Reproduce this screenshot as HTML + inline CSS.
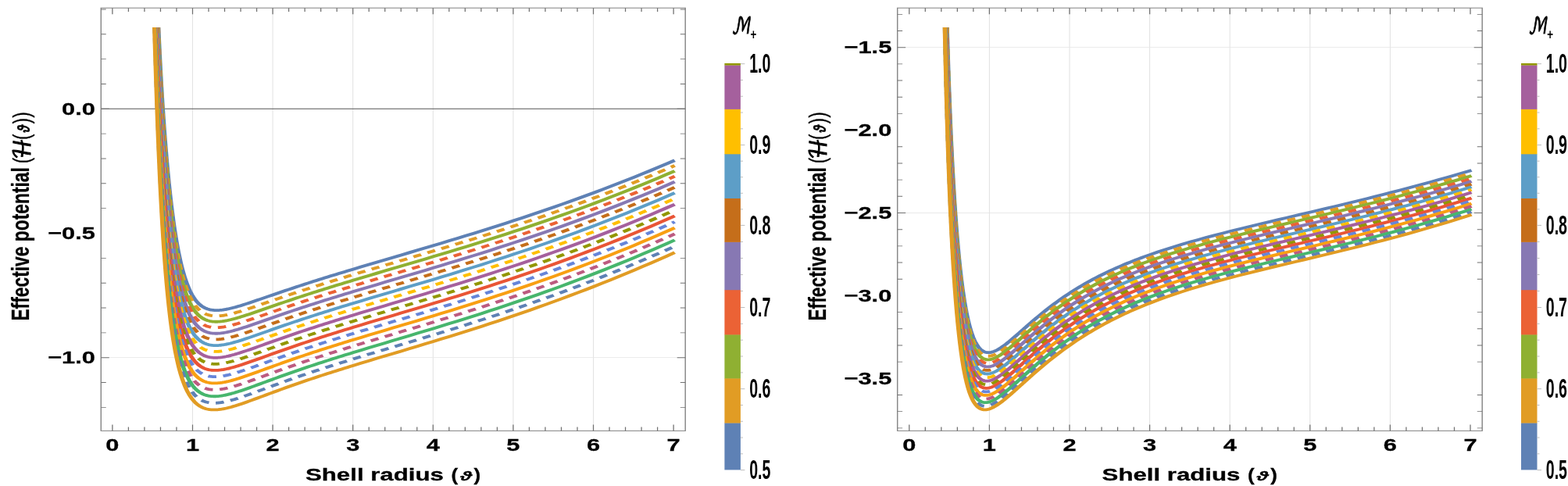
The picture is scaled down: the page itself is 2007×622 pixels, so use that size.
<!DOCTYPE html>
<html lang="en"><head><meta charset="utf-8"><title>Effective potential vs shell radius</title>
<style>html,body{margin:0;padding:0;background:#fff}body{width:2007px;height:622px;overflow:hidden}svg{display:block;filter:blur(0.45px)}</style>
</head><body>
<svg width="2007" height="622" viewBox="0 0 2007 622">
<rect width="2007" height="622" fill="#fff"/>
<clipPath id="cp0"><rect x="92.36" y="35.00" width="534.07" height="516.40"/></clipPath>
<g transform="scale(1.4000,1)">
<line x1="176.07" x2="176.07" y1="10.20" y2="551.40" stroke="#e2e2e2" stroke-width="0.75"/>
<line x1="249.36" x2="249.36" y1="10.20" y2="551.40" stroke="#e2e2e2" stroke-width="0.75"/>
<line x1="322.64" x2="322.64" y1="10.20" y2="551.40" stroke="#e2e2e2" stroke-width="0.75"/>
<line x1="395.93" x2="395.93" y1="10.20" y2="551.40" stroke="#e2e2e2" stroke-width="0.75"/>
<line x1="469.21" x2="469.21" y1="10.20" y2="551.40" stroke="#e2e2e2" stroke-width="0.75"/>
<line x1="542.50" x2="542.50" y1="10.20" y2="551.40" stroke="#e2e2e2" stroke-width="0.75"/>
<line x1="92.36" x2="626.57" y1="457.70" y2="457.70" stroke="#e6e6e6" stroke-width="0.75"/>
<line x1="92.36" x2="626.57" y1="139.30" y2="139.30" stroke="#555" stroke-width="1.00"/>
<g clip-path="url(#cp0)" fill="none" stroke-width="3.80" stroke-linejoin="round">
<polyline points="144.8,32 144.8,35 144.93,39.14 145.29,50.54 145.66,61.42 146.02,71.85 146.39,81.84 146.76,91.44 147.12,100.69 147.49,109.59 147.86,118.19 148.22,126.5 148.59,134.53 148.96,142.31 149.32,149.85 149.69,157.16 150.06,164.25 150.42,171.14 150.79,177.83 151.15,184.33 151.52,190.64 151.89,196.79 152.25,202.76 152.62,208.57 152.99,214.23 153.35,219.73 153.72,225.08 154.09,230.29 154.45,235.36 154.82,240.3 155.19,245.1 155.55,249.78 155.92,254.33 156.28,258.75 156.65,263.06 157.02,267.26 157.38,271.33 157.75,275.3 158.12,279.17 158.48,282.92 158.85,286.58 159.22,290.13 159.58,293.59 159.95,296.95 160.32,300.21 160.68,303.39 161.05,306.48 161.41,309.48 162.15,315.23 162.88,320.66 163.61,325.79 164.35,330.63 165.08,335.18 165.81,339.48 166.54,343.53 167.28,347.34 168.01,350.92 168.74,354.29 169.48,357.46 170.21,360.44 170.94,363.24 171.67,365.86 172.41,368.32 173.14,370.63 173.87,372.79 174.61,374.81 175.34,376.7 176.07,378.46 176.8,380.11 177.54,381.65 178.27,383.08 179,384.41 179.74,385.65 180.47,386.8 181.2,387.87 181.93,388.85 182.67,389.76 183.4,390.6 184.13,391.37 184.87,392.08 185.6,392.73 186.33,393.32 187.06,393.86 187.8,394.35 188.53,394.79 189.26,395.18 190,395.53 190.73,395.84 191.46,396.11 192.19,396.35 192.93,396.55 193.66,396.72 194.39,396.86 195.13,396.96 195.86,397.05 196.59,397.1 197.32,397.13 198.06,397.14 198.79,397.13 199.52,397.1 200.26,397.04 200.99,396.97 201.72,396.88 202.45,396.78 203.19,396.66 203.92,396.52 204.65,396.37 205.39,396.21 206.12,396.04 206.85,395.85 207.58,395.65 208.32,395.45 209.05,395.23 209.78,395 210.52,394.77 211.25,394.53 211.98,394.28 212.71,394.02 213.45,393.75 214.18,393.48 214.91,393.21 215.65,392.92 216.38,392.64 217.11,392.34 217.84,392.05 218.58,391.74 219.31,391.44 220.04,391.13 222.61,390.02 225.17,388.87 227.74,387.7 230.3,386.5 232.87,385.29 235.43,384.07 238,382.85 240.56,381.62 243.13,380.38 245.69,379.15 248.26,377.92 250.82,376.69 253.39,375.46 255.95,374.24 258.52,373.03 261.08,371.82 263.65,370.61 266.21,369.42 268.78,368.23 271.34,367.05 273.91,365.87 276.47,364.7 279.04,363.54 281.6,362.38 284.17,361.23 286.73,360.09 289.3,358.96 291.86,357.82 294.43,356.7 296.99,355.58 299.56,354.47 302.12,353.36 304.69,352.25 307.25,351.15 309.82,350.06 312.38,348.97 314.95,347.88 317.51,346.8 320.08,345.72 322.64,344.64 330,341.57 337.35,338.51 344.71,335.48 352.06,332.45 359.42,329.42 366.77,326.4 374.13,323.37 381.49,320.34 388.84,317.3 396.2,314.24 403.55,311.17 410.91,308.08 418.26,304.96 425.62,301.82 432.97,298.65 440.33,295.45 447.68,292.22 455.04,288.95 462.39,285.65 469.75,282.31 477.1,278.93 484.46,275.51 491.82,272.04 499.17,268.53 506.53,264.98 513.88,261.37 521.24,257.72 528.59,254.01 535.95,250.26 543.3,246.45 550.66,242.59 558.01,238.67 565.37,234.7 572.72,230.67 580.08,226.58 587.43,222.43 594.79,218.23 602.15,213.96 609.5,209.64 616.86,205.25" stroke="#5E81B5"/>
<polyline points="144.54,32 144.54,35 144.56,35.6 144.93,47.6 145.29,59.05 145.66,69.98 146.02,80.45 146.39,90.5 146.76,100.15 147.12,109.43 147.49,118.39 147.86,127.02 148.22,135.37 148.59,143.43 148.96,151.24 149.32,158.81 149.69,166.14 150.06,173.25 150.42,180.15 150.79,186.85 151.15,193.36 151.52,199.68 151.89,205.82 152.25,211.79 152.62,217.6 152.99,223.24 153.35,228.73 153.72,234.07 154.09,239.27 154.45,244.32 154.82,249.24 155.19,254.02 155.55,258.67 155.92,263.2 156.28,267.6 156.65,271.89 157.02,276.05 157.38,280.1 157.75,284.05 158.12,287.88 158.48,291.61 158.85,295.23 159.22,298.75 159.58,302.18 159.95,305.51 160.32,308.75 160.68,311.89 161.05,314.95 161.41,317.92 162.15,323.62 162.88,328.99 163.61,334.06 164.35,338.84 165.08,343.34 165.81,347.59 166.54,351.58 167.28,355.34 168.01,358.88 168.74,362.21 169.48,365.34 170.21,368.28 170.94,371.04 171.67,373.62 172.41,376.05 173.14,378.32 173.87,380.45 174.61,382.45 175.34,384.31 176.07,386.05 176.8,387.68 177.54,389.19 178.27,390.6 179,391.91 179.74,393.13 180.47,394.27 181.2,395.32 181.93,396.29 182.67,397.18 183.4,398.01 184.13,398.77 184.87,399.47 185.6,400.1 186.33,400.69 187.06,401.21 187.8,401.69 188.53,402.12 189.26,402.51 190,402.85 190.73,403.15 191.46,403.42 192.19,403.65 192.93,403.85 193.66,404.01 194.39,404.14 195.13,404.25 195.86,404.32 196.59,404.38 197.32,404.4 198.06,404.41 198.79,404.39 199.52,404.36 200.26,404.3 200.99,404.22 201.72,404.13 202.45,404.03 203.19,403.9 203.92,403.76 204.65,403.61 205.39,403.45 206.12,403.27 206.85,403.08 207.58,402.88 208.32,402.68 209.05,402.46 209.78,402.23 210.52,401.99 211.25,401.75 211.98,401.49 212.71,401.23 213.45,400.97 214.18,400.7 214.91,400.42 215.65,400.13 216.38,399.84 217.11,399.55 217.84,399.25 218.58,398.95 219.31,398.64 220.04,398.33 222.61,397.21 225.17,396.06 227.74,394.88 230.3,393.68 232.87,392.46 235.43,391.24 238,390 240.56,388.77 243.13,387.53 245.69,386.29 248.26,385.05 250.82,383.82 253.39,382.59 255.95,381.36 258.52,380.14 261.08,378.93 263.65,377.72 266.21,376.52 268.78,375.33 271.34,374.14 273.91,372.96 276.47,371.79 279.04,370.62 281.6,369.46 284.17,368.31 286.73,367.16 289.3,366.02 291.86,364.89 294.43,363.76 296.99,362.64 299.56,361.53 302.12,360.41 304.69,359.31 307.25,358.21 309.82,357.11 312.38,356.02 314.95,354.93 317.51,353.84 320.08,352.76 322.64,351.68 330,348.61 337.35,345.55 344.71,342.51 352.06,339.48 359.42,336.45 366.77,333.42 374.13,330.4 381.49,327.36 388.84,324.31 396.2,321.25 403.55,318.17 410.91,315.08 418.26,311.96 425.62,308.81 432.97,305.64 440.33,302.43 447.68,299.19 455.04,295.92 462.39,292.61 469.75,289.26 477.1,285.88 484.46,282.44 491.82,278.97 499.17,275.45 506.53,271.88 513.88,268.27 521.24,264.61 528.59,260.89 535.95,257.12 543.3,253.3 550.66,249.43 558.01,245.5 565.37,241.52 572.72,237.48 580.08,233.38 587.43,229.22 594.79,225 602.15,220.72 609.5,216.38 616.86,211.98" stroke="#E19C24" stroke-dasharray="7.6 6.2" stroke-dashoffset="-3"/>
<polyline points="144.29,32 144.29,35 144.56,44.14 144.93,56.18 145.29,67.67 145.66,78.65 146.02,89.17 146.39,99.26 146.76,108.96 147.12,118.29 147.49,127.29 147.86,135.97 148.22,144.35 148.59,152.45 148.96,160.29 149.32,167.88 149.69,175.23 150.06,182.36 150.42,189.28 150.79,195.99 151.15,202.5 151.52,208.82 151.89,214.97 152.25,220.94 152.62,226.74 152.99,232.37 153.35,237.85 153.72,243.18 154.09,248.36 154.45,253.4 154.82,258.29 155.19,263.06 155.55,267.69 155.92,272.19 156.28,276.57 156.65,280.82 157.02,284.96 157.38,288.99 157.75,292.9 158.12,296.7 158.48,300.4 158.85,303.99 159.22,307.49 159.58,310.88 159.95,314.18 160.32,317.39 160.68,320.5 161.05,323.53 161.41,326.47 162.15,332.11 162.88,337.42 163.61,342.43 164.35,347.15 165.08,351.6 165.81,355.79 166.54,359.74 167.28,363.45 168.01,366.95 168.74,370.23 169.48,373.32 170.21,376.21 170.94,378.93 171.67,381.49 172.41,383.88 173.14,386.12 173.87,388.22 174.61,390.18 175.34,392.02 176.07,393.73 176.8,395.33 177.54,396.83 178.27,398.22 179,399.51 179.74,400.71 180.47,401.83 181.2,402.86 181.93,403.82 182.67,404.7 183.4,405.51 184.13,406.26 184.87,406.94 185.6,407.57 186.33,408.14 187.06,408.66 187.8,409.13 188.53,409.55 189.26,409.93 190,410.27 190.73,410.56 191.46,410.82 192.19,411.04 192.93,411.23 193.66,411.39 194.39,411.52 195.13,411.62 195.86,411.69 196.59,411.74 197.32,411.77 198.06,411.77 198.79,411.75 199.52,411.71 200.26,411.65 200.99,411.57 201.72,411.47 202.45,411.36 203.19,411.24 203.92,411.1 204.65,410.94 205.39,410.78 206.12,410.6 206.85,410.41 207.58,410.21 208.32,409.99 209.05,409.77 209.78,409.54 210.52,409.3 211.25,409.06 211.98,408.8 212.71,408.54 213.45,408.27 214.18,408 214.91,407.72 215.65,407.43 216.38,407.14 217.11,406.85 217.84,406.54 218.58,406.24 219.31,405.93 220.04,405.62 222.61,404.49 225.17,403.33 227.74,402.15 230.3,400.94 232.87,399.72 235.43,398.49 238,397.25 240.56,396.01 243.13,394.76 245.69,393.52 248.26,392.27 250.82,391.03 253.39,389.8 255.95,388.57 258.52,387.34 261.08,386.13 263.65,384.91 266.21,383.71 268.78,382.51 271.34,381.32 273.91,380.14 276.47,378.96 279.04,377.79 281.6,376.63 284.17,375.47 286.73,374.33 289.3,373.18 291.86,372.05 294.43,370.92 296.99,369.79 299.56,368.67 302.12,367.56 304.69,366.45 307.25,365.35 309.82,364.25 312.38,363.15 314.95,362.06 317.51,360.98 320.08,359.89 322.64,358.81 330,355.73 337.35,352.67 344.71,349.63 352.06,346.59 359.42,343.57 366.77,340.54 374.13,337.5 381.49,334.47 388.84,331.42 396.2,328.35 403.55,325.27 410.91,322.17 418.26,319.04 425.62,315.89 432.97,312.71 440.33,309.5 447.68,306.25 455.04,302.98 462.39,299.66 469.75,296.3 477.1,292.91 484.46,289.47 491.82,285.98 499.17,282.45 506.53,278.88 513.88,275.25 521.24,271.58 528.59,267.85 535.95,264.08 543.3,260.25 550.66,256.36 558.01,252.42 565.37,248.42 572.72,244.37 580.08,240.26 587.43,236.09 594.79,231.86 602.15,227.57 609.5,223.22 616.86,218.8" stroke="#8FB032"/>
<polyline points="144.05,32 144.05,35 144.19,40.1 144.56,52.78 144.93,64.86 145.29,76.39 145.66,87.42 146.02,97.99 146.39,108.13 146.76,117.88 147.12,127.26 147.49,136.3 147.86,145.02 148.22,153.44 148.59,161.58 148.96,169.45 149.32,177.06 149.69,184.44 150.06,191.59 150.42,198.52 150.79,205.24 151.15,211.76 151.52,218.09 151.89,224.23 152.25,230.2 152.62,235.99 152.99,241.62 153.35,247.09 153.72,252.4 154.09,257.57 154.45,262.58 154.82,267.46 155.19,272.2 155.55,276.81 155.92,281.29 156.28,285.64 156.65,289.87 157.02,293.98 157.38,297.98 157.75,301.86 158.12,305.63 158.48,309.3 158.85,312.86 159.22,316.33 159.58,319.69 159.95,322.96 160.32,326.14 160.68,329.22 161.05,332.22 161.41,335.13 162.15,340.7 162.88,345.95 163.61,350.91 164.35,355.57 165.08,359.97 165.81,364.1 166.54,368 167.28,371.66 168.01,375.11 168.74,378.35 169.48,381.39 170.21,384.25 170.94,386.93 171.67,389.44 172.41,391.8 173.14,394.01 173.87,396.08 174.61,398.01 175.34,399.82 176.07,401.51 176.8,403.09 177.54,404.56 178.27,405.93 179,407.2 179.74,408.38 180.47,409.48 181.2,410.5 181.93,411.44 182.67,412.3 183.4,413.1 184.13,413.84 184.87,414.51 185.6,415.13 186.33,415.69 187.06,416.2 187.8,416.66 188.53,417.07 189.26,417.44 190,417.77 190.73,418.06 191.46,418.31 192.19,418.53 192.93,418.71 193.66,418.87 194.39,418.99 195.13,419.09 195.86,419.15 196.59,419.2 197.32,419.22 198.06,419.22 198.79,419.19 199.52,419.15 200.26,419.09 200.99,419 201.72,418.91 202.45,418.79 203.19,418.66 203.92,418.52 204.65,418.37 205.39,418.2 206.12,418.01 206.85,417.82 207.58,417.62 208.32,417.4 209.05,417.18 209.78,416.95 210.52,416.71 211.25,416.46 211.98,416.2 212.71,415.94 213.45,415.67 214.18,415.39 214.91,415.11 215.65,414.82 216.38,414.53 217.11,414.23 217.84,413.93 218.58,413.62 219.31,413.31 220.04,413 222.61,411.87 225.17,410.7 227.74,409.51 230.3,408.3 232.87,407.07 235.43,405.83 238,404.59 240.56,403.34 243.13,402.09 245.69,400.84 248.26,399.59 250.82,398.34 253.39,397.1 255.95,395.87 258.52,394.64 261.08,393.41 263.65,392.2 266.21,390.99 268.78,389.79 271.34,388.59 273.91,387.4 276.47,386.22 279.04,385.05 281.6,383.89 284.17,382.73 286.73,381.58 289.3,380.43 291.86,379.29 294.43,378.16 296.99,377.03 299.56,375.91 302.12,374.79 304.69,373.68 307.25,372.58 309.82,371.48 312.38,370.38 314.95,369.29 317.51,368.2 320.08,367.12 322.64,366.03 330,362.95 337.35,359.89 344.71,356.84 352.06,353.8 359.42,350.77 366.77,347.74 374.13,344.7 381.49,341.66 388.84,338.61 396.2,335.54 403.55,332.45 410.91,329.35 418.26,326.21 425.62,323.06 432.97,319.87 440.33,316.65 447.68,313.4 455.04,310.12 462.39,306.79 469.75,303.43 477.1,300.02 484.46,296.58 491.82,293.08 499.17,289.55 506.53,285.96 513.88,282.32 521.24,278.64 528.59,274.9 535.95,271.12 543.3,267.27 550.66,263.38 558.01,259.43 565.37,255.42 572.72,251.35 580.08,247.23 587.43,243.04 594.79,238.8 602.15,234.5 609.5,230.14 616.86,225.71" stroke="#EB6235" stroke-dasharray="7.6 6.2" stroke-dashoffset="-3"/>
<polyline points="143.81,32 143.81,35 143.83,35.46 144.19,48.82 144.56,61.53 144.93,73.65 145.29,85.22 145.66,96.3 146.02,106.92 146.39,117.11 146.76,126.91 147.12,136.34 147.49,145.42 147.86,154.19 148.22,162.64 148.59,170.81 148.96,178.71 149.32,186.36 149.69,193.76 150.06,200.92 150.42,207.87 150.79,214.6 151.15,221.13 151.52,227.46 151.89,233.6 152.25,239.57 152.62,245.36 152.99,250.98 153.35,256.43 153.72,261.73 154.09,266.88 154.45,271.88 154.82,276.74 155.19,281.46 155.55,286.04 155.92,290.5 156.28,294.82 156.65,299.03 157.02,303.11 157.38,307.08 157.75,310.93 158.12,314.67 158.48,318.31 158.85,321.85 159.22,325.28 159.58,328.61 159.95,331.85 160.32,334.99 160.68,338.05 161.05,341.01 161.41,343.89 162.15,349.4 162.88,354.59 163.61,359.49 164.35,364.09 165.08,368.43 165.81,372.52 166.54,376.36 167.28,379.97 168.01,383.37 168.74,386.57 169.48,389.56 170.21,392.38 170.94,395.02 171.67,397.5 172.41,399.82 173.14,402 173.87,404.04 174.61,405.94 175.34,407.72 176.07,409.39 176.8,410.94 177.54,412.38 178.27,413.73 179,414.98 179.74,416.15 180.47,417.23 181.2,418.23 181.93,419.15 182.67,420.01 183.4,420.79 184.13,421.51 184.87,422.17 185.6,422.78 186.33,423.33 187.06,423.83 187.8,424.28 188.53,424.69 189.26,425.05 190,425.37 190.73,425.65 191.46,425.9 192.19,426.11 192.93,426.29 193.66,426.43 194.39,426.55 195.13,426.64 195.86,426.71 196.59,426.75 197.32,426.76 198.06,426.76 198.79,426.73 199.52,426.68 200.26,426.62 200.99,426.53 201.72,426.43 202.45,426.31 203.19,426.18 203.92,426.04 204.65,425.88 205.39,425.71 206.12,425.52 206.85,425.33 207.58,425.12 208.32,424.91 209.05,424.68 209.78,424.45 210.52,424.2 211.25,423.95 211.98,423.69 212.71,423.43 213.45,423.16 214.18,422.88 214.91,422.59 215.65,422.3 216.38,422.01 217.11,421.71 217.84,421.4 218.58,421.1 219.31,420.78 220.04,420.47 222.61,419.33 225.17,418.16 227.74,416.96 230.3,415.74 232.87,414.51 235.43,413.27 238,412.02 240.56,410.76 243.13,409.5 245.69,408.25 248.26,406.99 250.82,405.74 253.39,404.5 255.95,403.26 258.52,402.02 261.08,400.79 263.65,399.57 266.21,398.36 268.78,397.15 271.34,395.95 273.91,394.76 276.47,393.58 279.04,392.4 281.6,391.23 284.17,390.07 286.73,388.91 289.3,387.77 291.86,386.62 294.43,385.49 296.99,384.36 299.56,383.24 302.12,382.12 304.69,381.01 307.25,379.9 309.82,378.8 312.38,377.7 314.95,376.6 317.51,375.51 320.08,374.43 322.64,373.34 330,370.26 337.35,367.19 344.71,364.14 352.06,361.1 359.42,358.06 366.77,355.03 374.13,351.99 381.49,348.94 388.84,345.88 396.2,342.81 403.55,339.72 410.91,336.61 418.26,333.48 425.62,330.31 432.97,327.12 440.33,323.9 447.68,320.64 455.04,317.35 462.39,314.01 469.75,310.64 477.1,307.23 484.46,303.77 491.82,300.27 499.17,296.72 506.53,293.13 513.88,289.48 521.24,285.79 528.59,282.04 535.95,278.24 543.3,274.39 550.66,270.48 558.01,266.52 565.37,262.49 572.72,258.42 580.08,254.28 587.43,250.09 594.79,245.83 602.15,241.52 609.5,237.14 616.86,232.7" stroke="#8778B3"/>
<polyline points="143.58,32 143.58,35 143.83,44.26 144.19,57.64 144.56,70.38 144.93,82.54 145.29,94.16 145.66,105.29 146.02,115.96 146.39,126.2 146.76,136.05 147.12,145.53 147.49,154.66 147.86,163.46 148.22,171.96 148.59,180.16 148.96,188.1 149.32,195.77 149.69,203.19 150.06,210.37 150.42,217.33 150.79,224.08 151.15,230.61 151.52,236.95 151.89,243.09 152.25,249.05 152.62,254.84 152.99,260.45 153.35,265.89 153.72,271.18 154.09,276.31 154.45,281.29 154.82,286.13 155.19,290.83 155.55,295.39 155.92,299.82 156.28,304.12 156.65,308.29 157.02,312.35 157.38,316.29 157.75,320.11 158.12,323.83 158.48,327.43 158.85,330.93 159.22,334.34 159.58,337.64 159.95,340.84 160.32,343.96 160.68,346.98 161.05,349.91 161.41,352.76 162.15,358.21 162.88,363.34 163.61,368.17 164.35,372.72 165.08,377 165.81,381.03 166.54,384.82 167.28,388.39 168.01,391.74 168.74,394.88 169.48,397.84 170.21,400.61 170.94,403.21 171.67,405.66 172.41,407.94 173.14,410.09 173.87,412.09 174.61,413.97 175.34,415.72 176.07,417.36 176.8,418.88 177.54,420.31 178.27,421.63 179,422.86 179.74,424.01 180.47,425.07 181.2,426.05 181.93,426.96 182.67,427.8 183.4,428.57 184.13,429.28 184.87,429.93 185.6,430.52 186.33,431.06 187.06,431.55 187.8,431.99 188.53,432.39 189.26,432.74 190,433.06 190.73,433.33 191.46,433.57 192.19,433.78 192.93,433.95 193.66,434.09 194.39,434.21 195.13,434.29 195.86,434.35 196.59,434.39 197.32,434.4 198.06,434.39 198.79,434.36 199.52,434.31 200.26,434.24 200.99,434.15 201.72,434.05 202.45,433.93 203.19,433.79 203.92,433.64 204.65,433.48 205.39,433.31 206.12,433.12 206.85,432.92 207.58,432.72 208.32,432.5 209.05,432.27 209.78,432.03 210.52,431.79 211.25,431.54 211.98,431.28 212.71,431.01 213.45,430.73 214.18,430.45 214.91,430.17 215.65,429.88 216.38,429.58 217.11,429.28 217.84,428.97 218.58,428.66 219.31,428.35 220.04,428.03 222.61,426.88 225.17,425.71 227.74,424.5 230.3,423.28 232.87,422.04 235.43,420.79 238,419.53 240.56,418.27 243.13,417.01 245.69,415.75 248.26,414.49 250.82,413.23 253.39,411.98 255.95,410.73 258.52,409.49 261.08,408.26 263.65,407.03 266.21,405.82 268.78,404.61 271.34,403.4 273.91,402.21 276.47,401.02 279.04,399.84 281.6,398.67 284.17,397.5 286.73,396.34 289.3,395.19 291.86,394.05 294.43,392.91 296.99,391.78 299.56,390.65 302.12,389.53 304.69,388.42 307.25,387.31 309.82,386.2 312.38,385.1 314.95,384.01 317.51,382.91 320.08,381.83 322.64,380.74 330,377.65 337.35,374.58 344.71,371.52 352.06,368.48 359.42,365.44 366.77,362.4 374.13,359.36 381.49,356.31 388.84,353.25 396.2,350.18 403.55,347.08 410.91,343.97 418.26,340.82 425.62,337.66 432.97,334.46 440.33,331.23 447.68,327.96 455.04,324.66 462.39,321.32 469.75,317.94 477.1,314.52 484.46,311.06 491.82,307.55 499.17,303.99 506.53,300.38 513.88,296.73 521.24,293.02 528.59,289.26 535.95,285.45 543.3,281.59 550.66,277.67 558.01,273.69 565.37,269.66 572.72,265.57 580.08,261.42 587.43,257.21 594.79,252.94 602.15,248.62 609.5,244.23 616.86,239.77" stroke="#C56E1A" stroke-dasharray="7.6 6.2" stroke-dashoffset="-3"/>
<polyline points="143.36,32 143.36,35 143.46,39.09 143.83,53.17 144.19,66.57 144.56,79.34 144.93,91.54 145.29,103.21 145.66,114.39 146.02,125.11 146.39,135.4 146.76,145.3 147.12,154.83 147.49,164 147.86,172.85 148.22,181.38 148.59,189.63 148.96,197.59 149.32,205.29 149.69,212.73 150.06,219.94 150.42,226.91 150.79,233.67 151.15,240.21 151.52,246.55 151.89,252.7 152.25,258.65 152.62,264.43 152.99,270.03 153.35,275.47 153.72,280.74 154.09,285.85 154.45,290.82 154.82,295.63 155.19,300.31 155.55,304.85 155.92,309.25 156.28,313.52 156.65,317.67 157.02,321.7 157.38,325.61 157.75,329.4 158.12,333.09 158.48,336.66 158.85,340.13 159.22,343.5 159.58,346.77 159.95,349.94 160.32,353.03 160.68,356.01 161.05,358.92 161.41,361.73 162.15,367.12 162.88,372.18 163.61,376.96 164.35,381.45 165.08,385.67 165.81,389.65 166.54,393.38 167.28,396.9 168.01,400.2 168.74,403.3 169.48,406.21 170.21,408.94 170.94,411.5 171.67,413.91 172.41,416.16 173.14,418.27 173.87,420.24 174.61,422.09 175.34,423.81 176.07,425.42 176.8,426.92 177.54,428.32 178.27,429.62 179,430.84 179.74,431.96 180.47,433 181.2,433.97 181.93,434.86 182.67,435.69 183.4,436.44 184.13,437.14 184.87,437.78 185.6,438.36 186.33,438.89 187.06,439.37 187.8,439.8 188.53,440.19 189.26,440.53 190,440.84 190.73,441.11 191.46,441.34 192.19,441.54 192.93,441.71 193.66,441.84 194.39,441.95 195.13,442.03 195.86,442.09 196.59,442.12 197.32,442.12 198.06,442.11 198.79,442.08 199.52,442.02 200.26,441.95 200.99,441.86 201.72,441.75 202.45,441.63 203.19,441.49 203.92,441.34 204.65,441.18 205.39,441 206.12,440.81 206.85,440.61 207.58,440.4 208.32,440.18 209.05,439.95 209.78,439.71 210.52,439.47 211.25,439.21 211.98,438.95 212.71,438.68 213.45,438.4 214.18,438.12 214.91,437.83 215.65,437.54 216.38,437.24 217.11,436.94 217.84,436.63 218.58,436.32 219.31,436 220.04,435.68 222.61,434.53 225.17,433.35 227.74,432.14 230.3,430.91 232.87,429.66 235.43,428.4 238,427.14 240.56,425.87 243.13,424.6 245.69,423.34 248.26,422.07 250.82,420.81 253.39,419.55 255.95,418.3 258.52,417.05 261.08,415.82 263.65,414.59 266.21,413.36 268.78,412.15 271.34,410.94 273.91,409.74 276.47,408.55 279.04,407.37 281.6,406.19 284.17,405.02 286.73,403.86 289.3,402.71 291.86,401.56 294.43,400.42 296.99,399.28 299.56,398.15 302.12,397.03 304.69,395.91 307.25,394.8 309.82,393.7 312.38,392.59 314.95,391.5 317.51,390.4 320.08,389.31 322.64,388.23 330,385.13 337.35,382.06 344.71,379 352.06,375.95 359.42,372.91 366.77,369.87 374.13,366.82 381.49,363.77 388.84,360.71 396.2,357.63 403.55,354.53 410.91,351.41 418.26,348.26 425.62,345.09 432.97,341.88 440.33,338.65 447.68,335.38 455.04,332.07 462.39,328.72 469.75,325.33 477.1,321.9 484.46,318.43 491.82,314.91 499.17,311.34 506.53,307.72 513.88,304.06 521.24,300.34 528.59,296.57 535.95,292.75 543.3,288.87 550.66,284.94 558.01,280.95 565.37,276.91 572.72,272.81 580.08,268.64 587.43,264.42 594.79,260.14 602.15,255.8 609.5,251.4 616.86,246.93" stroke="#5D9EC7"/>
<polyline points="143.14,32 143.14,35 143.46,48.1 143.83,62.19 144.19,75.6 144.56,88.41 144.93,100.65 145.29,112.36 145.66,123.59 146.02,134.36 146.39,144.71 146.76,154.66 147.12,164.23 147.49,173.46 147.86,182.35 148.22,190.92 148.59,199.2 148.96,207.2 149.32,214.92 149.69,222.39 150.06,229.62 150.42,236.61 150.79,243.37 151.15,249.92 151.52,256.27 151.89,262.41 152.25,268.37 152.62,274.14 152.99,279.73 153.35,285.15 153.72,290.41 154.09,295.51 154.45,300.45 154.82,305.25 155.19,309.9 155.55,314.42 155.92,318.79 156.28,323.04 156.65,327.16 157.02,331.16 157.38,335.04 157.75,338.8 158.12,342.46 158.48,346 158.85,349.44 159.22,352.78 159.58,356.01 159.95,359.15 160.32,362.2 160.68,365.16 161.05,368.03 161.41,370.81 162.15,376.13 162.88,381.14 163.61,385.85 164.35,390.28 165.08,394.45 165.81,398.37 166.54,402.05 167.28,405.51 168.01,408.76 168.74,411.81 169.48,414.68 170.21,417.37 170.94,419.89 171.67,422.26 172.41,424.47 173.14,426.55 173.87,428.49 174.61,430.3 175.34,432 176.07,433.58 176.8,435.06 177.54,436.43 178.27,437.71 179,438.9 179.74,440.01 180.47,441.03 181.2,441.98 181.93,442.86 182.67,443.67 183.4,444.41 184.13,445.09 184.87,445.72 185.6,446.29 186.33,446.81 187.06,447.28 187.8,447.7 188.53,448.08 189.26,448.42 190,448.71 190.73,448.98 191.46,449.2 192.19,449.39 192.93,449.55 193.66,449.68 194.39,449.79 195.13,449.86 195.86,449.91 196.59,449.94 197.32,449.94 198.06,449.92 198.79,449.89 199.52,449.83 200.26,449.75 200.99,449.66 201.72,449.55 202.45,449.42 203.19,449.28 203.92,449.13 204.65,448.96 205.39,448.78 206.12,448.59 206.85,448.39 207.58,448.18 208.32,447.95 209.05,447.72 209.78,447.48 210.52,447.23 211.25,446.98 211.98,446.71 212.71,446.44 213.45,446.16 214.18,445.88 214.91,445.59 215.65,445.29 216.38,444.99 217.11,444.69 217.84,444.38 218.58,444.06 219.31,443.74 220.04,443.42 222.61,442.26 225.17,441.07 227.74,439.86 230.3,438.62 232.87,437.37 235.43,436.11 238,434.84 240.56,433.56 243.13,432.29 245.69,431.01 248.26,429.74 250.82,428.48 253.39,427.21 255.95,425.96 258.52,424.71 261.08,423.46 263.65,422.23 266.21,421 268.78,419.78 271.34,418.57 273.91,417.37 276.47,416.17 279.04,414.98 281.6,413.8 284.17,412.63 286.73,411.47 289.3,410.31 291.86,409.16 294.43,408.01 296.99,406.88 299.56,405.75 302.12,404.62 304.69,403.5 307.25,402.39 309.82,401.28 312.38,400.18 314.95,399.08 317.51,397.98 320.08,396.89 322.64,395.8 330,392.7 337.35,389.63 344.71,386.56 352.06,383.51 359.42,380.47 366.77,377.42 374.13,374.38 381.49,371.32 388.84,368.25 396.2,365.17 403.55,362.06 410.91,358.94 418.26,355.79 425.62,352.61 432.97,349.4 440.33,346.15 447.68,342.88 455.04,339.56 462.39,336.2 469.75,332.81 477.1,329.37 484.46,325.89 491.82,322.36 499.17,318.78 506.53,315.15 513.88,311.48 521.24,307.75 528.59,303.97 535.95,300.13 543.3,296.24 550.66,292.3 558.01,288.3 565.37,284.24 572.72,280.13 580.08,275.95 587.43,271.72 594.79,267.43 602.15,263.07 609.5,258.66 616.86,254.18" stroke="#FFBF00" stroke-dasharray="7.6 6.2" stroke-dashoffset="-3"/>
<polyline points="142.92,32 142.92,35 143.09,42.43 143.46,57.22 143.83,71.3 144.19,84.74 144.56,97.58 144.93,109.86 145.29,121.62 145.66,132.9 146.02,143.73 146.39,154.13 146.76,164.13 147.12,173.75 147.49,183.02 147.86,191.96 148.22,200.57 148.59,208.89 148.96,216.92 149.32,224.67 149.69,232.16 150.06,239.41 150.42,246.41 150.79,253.19 151.15,259.75 151.52,266.09 151.89,272.24 152.25,278.19 152.62,283.96 152.99,289.54 153.35,294.95 153.72,300.2 154.09,305.28 154.45,310.2 154.82,314.98 155.19,319.61 155.55,324.1 155.92,328.45 156.28,332.67 156.65,336.76 157.02,340.73 157.38,344.58 157.75,348.32 158.12,351.94 158.48,355.45 158.85,358.86 159.22,362.16 159.58,365.36 159.95,368.47 160.32,371.49 160.68,374.41 161.05,377.25 161.41,380 162.15,385.25 162.88,390.2 163.61,394.84 164.35,399.21 165.08,403.32 165.81,407.19 166.54,410.81 167.28,414.22 168.01,417.42 168.74,420.43 169.48,423.25 170.21,425.9 170.94,428.38 171.67,430.7 172.41,432.88 173.14,434.92 173.87,436.83 174.61,438.61 175.34,440.28 176.07,441.84 176.8,443.29 177.54,444.64 178.27,445.9 179,447.07 179.74,448.15 180.47,449.16 181.2,450.09 181.93,450.95 182.67,451.74 183.4,452.47 184.13,453.14 184.87,453.75 185.6,454.31 186.33,454.82 187.06,455.28 187.8,455.69 188.53,456.06 189.26,456.39 190,456.68 190.73,456.93 191.46,457.15 192.19,457.34 192.93,457.49 193.66,457.62 194.39,457.72 195.13,457.79 195.86,457.83 196.59,457.85 197.32,457.85 198.06,457.83 198.79,457.79 199.52,457.73 200.26,457.65 200.99,457.55 201.72,457.44 202.45,457.31 203.19,457.17 203.92,457.01 204.65,456.84 205.39,456.66 206.12,456.46 206.85,456.26 207.58,456.04 208.32,455.82 209.05,455.59 209.78,455.34 210.52,455.09 211.25,454.83 211.98,454.57 212.71,454.29 213.45,454.01 214.18,453.73 214.91,453.43 215.65,453.14 216.38,452.83 217.11,452.53 217.84,452.21 218.58,451.9 219.31,451.58 220.04,451.25 222.61,450.09 225.17,448.89 227.74,447.67 230.3,446.43 232.87,445.17 235.43,443.9 238,442.62 240.56,441.34 243.13,440.06 245.69,438.78 248.26,437.51 250.82,436.23 253.39,434.96 255.95,433.7 258.52,432.45 261.08,431.2 263.65,429.96 266.21,428.73 268.78,427.5 271.34,426.29 273.91,425.08 276.47,423.88 279.04,422.69 281.6,421.5 284.17,420.33 286.73,419.16 289.3,418 291.86,416.85 294.43,415.7 296.99,414.56 299.56,413.43 302.12,412.3 304.69,411.18 307.25,410.06 309.82,408.95 312.38,407.85 314.95,406.74 317.51,405.65 320.08,404.55 322.64,403.47 330,400.36 337.35,397.28 344.71,394.22 352.06,391.16 359.42,388.11 366.77,385.07 374.13,382.01 381.49,378.95 388.84,375.88 396.2,372.79 403.55,369.69 410.91,366.56 418.26,363.4 425.62,360.21 432.97,357 440.33,353.75 447.68,350.46 455.04,347.14 462.39,343.78 469.75,340.37 477.1,336.92 484.46,333.43 491.82,329.89 499.17,326.3 506.53,322.67 513.88,318.98 521.24,315.24 528.59,311.45 535.95,307.6 543.3,303.7 550.66,299.75 558.01,295.73 565.37,291.66 572.72,287.54 580.08,283.35 587.43,279.1 594.79,274.8 602.15,270.43 609.5,266 616.86,261.51" stroke="#A5609D"/>
<polyline points="142.7,32 142.7,35 142.73,36.15 143.09,51.66 143.46,66.44 143.83,80.53 144.19,93.99 144.56,106.86 144.93,119.18 145.29,130.99 145.66,142.32 146.02,153.2 146.39,163.65 146.76,173.7 147.12,183.38 147.49,192.7 147.86,201.68 148.22,210.33 148.59,218.69 148.96,226.75 149.32,234.53 149.69,242.05 150.06,249.31 150.42,256.33 150.79,263.12 151.15,269.69 151.52,276.04 151.89,282.18 152.25,288.13 152.62,293.89 152.99,299.47 153.35,304.87 153.72,310.09 154.09,315.16 154.45,320.07 154.82,324.82 155.19,329.43 155.55,333.89 155.92,338.22 156.28,342.41 156.65,346.48 157.02,350.42 157.38,354.23 157.75,357.94 158.12,361.53 158.48,365.01 158.85,368.38 159.22,371.65 159.58,374.82 159.95,377.9 160.32,380.88 160.68,383.77 161.05,386.57 161.41,389.29 162.15,394.48 162.88,399.36 163.61,403.94 164.35,408.25 165.08,412.3 165.81,416.11 166.54,419.68 167.28,423.04 168.01,426.19 168.74,429.15 169.48,431.92 170.21,434.52 170.94,436.96 171.67,439.25 172.41,441.39 173.14,443.39 173.87,445.27 174.61,447.02 175.34,448.66 176.07,450.19 176.8,451.61 177.54,452.94 178.27,454.17 179,455.32 179.74,456.39 180.47,457.37 181.2,458.29 181.93,459.13 182.67,459.91 183.4,460.62 184.13,461.28 184.87,461.88 185.6,462.42 186.33,462.92 187.06,463.37 187.8,463.77 188.53,464.13 189.26,464.46 190,464.74 190.73,464.98 191.46,465.2 192.19,465.38 192.93,465.52 193.66,465.64 194.39,465.73 195.13,465.8 195.86,465.84 196.59,465.86 197.32,465.85 198.06,465.83 198.79,465.78 199.52,465.72 200.26,465.63 200.99,465.53 201.72,465.42 202.45,465.28 203.19,465.14 203.92,464.98 204.65,464.81 205.39,464.62 206.12,464.43 206.85,464.22 207.58,464 208.32,463.77 209.05,463.54 209.78,463.29 210.52,463.04 211.25,462.78 211.98,462.51 212.71,462.23 213.45,461.95 214.18,461.66 214.91,461.37 215.65,461.07 216.38,460.77 217.11,460.46 217.84,460.14 218.58,459.82 219.31,459.5 220.04,459.17 222.61,458.01 225.17,456.8 227.74,455.57 230.3,454.32 232.87,453.06 235.43,451.78 238,450.5 240.56,449.21 243.13,447.93 245.69,446.64 248.26,445.36 250.82,444.08 253.39,442.81 255.95,441.54 258.52,440.28 261.08,439.02 263.65,437.78 266.21,436.54 268.78,435.31 271.34,434.09 273.91,432.88 276.47,431.68 279.04,430.48 281.6,429.29 284.17,428.12 286.73,426.94 289.3,425.78 291.86,424.62 294.43,423.47 296.99,422.33 299.56,421.2 302.12,420.07 304.69,418.94 307.25,417.82 309.82,416.71 312.38,415.6 314.95,414.5 317.51,413.4 320.08,412.31 322.64,411.22 330,408.11 337.35,405.02 344.71,401.96 352.06,398.9 359.42,395.85 366.77,392.8 374.13,389.74 381.49,386.68 388.84,383.6 396.2,380.51 403.55,377.4 410.91,374.26 418.26,371.1 425.62,367.91 432.97,364.69 440.33,361.43 447.68,358.14 455.04,354.81 462.39,351.44 469.75,348.02 477.1,344.57 484.46,341.06 491.82,337.51 499.17,333.92 506.53,330.27 513.88,326.57 521.24,322.82 528.59,319.02 535.95,315.16 543.3,311.25 550.66,307.28 558.01,303.25 565.37,299.17 572.72,295.03 580.08,290.83 587.43,286.57 594.79,282.25 602.15,277.87 609.5,273.43 616.86,268.92" stroke="#929600" stroke-dasharray="7.6 6.2" stroke-dashoffset="-3"/>
<polyline points="142.49,32 142.49,35 142.73,45.54 143.09,61 143.46,75.76 143.83,89.86 144.19,103.34 144.56,116.24 144.93,128.61 145.29,140.47 145.66,151.85 146.02,162.78 146.39,173.28 146.76,183.39 147.12,193.12 147.49,202.48 147.86,211.51 148.22,220.21 148.59,228.6 148.96,236.69 149.32,244.5 149.69,252.04 150.06,259.33 150.42,266.36 150.79,273.16 151.15,279.74 151.52,286.09 151.89,292.24 152.25,298.19 152.62,303.94 152.99,309.5 153.35,314.89 153.72,320.11 154.09,325.15 154.45,330.04 154.82,334.77 155.19,339.36 155.55,343.8 155.92,348.1 156.28,352.26 156.65,356.3 157.02,360.21 157.38,364 157.75,367.67 158.12,371.23 158.48,374.67 158.85,378.01 159.22,381.25 159.58,384.39 159.95,387.43 160.32,390.38 160.68,393.24 161.05,396 161.41,398.69 162.15,403.81 162.88,408.63 163.61,413.15 164.35,417.39 165.08,421.38 165.81,425.13 166.54,428.65 167.28,431.95 168.01,435.05 168.74,437.96 169.48,440.69 170.21,443.25 170.94,445.64 171.67,447.89 172.41,449.99 173.14,451.96 173.87,453.8 174.61,455.53 175.34,457.13 176.07,458.63 176.8,460.03 177.54,461.33 178.27,462.55 179,463.67 179.74,464.72 180.47,465.68 181.2,466.58 181.93,467.41 182.67,468.17 183.4,468.87 184.13,469.51 184.87,470.1 185.6,470.63 186.33,471.12 187.06,471.56 187.8,471.95 188.53,472.3 189.26,472.61 190,472.89 190.73,473.13 191.46,473.33 192.19,473.5 192.93,473.65 193.66,473.76 194.39,473.85 195.13,473.91 195.86,473.94 196.59,473.95 197.32,473.95 198.06,473.92 198.79,473.86 199.52,473.8 200.26,473.71 200.99,473.61 201.72,473.49 202.45,473.35 203.19,473.2 203.92,473.04 204.65,472.87 205.39,472.68 206.12,472.48 206.85,472.27 207.58,472.05 208.32,471.82 209.05,471.58 209.78,471.34 210.52,471.08 211.25,470.82 211.98,470.55 212.71,470.27 213.45,469.98 214.18,469.69 214.91,469.4 215.65,469.1 216.38,468.79 217.11,468.48 217.84,468.16 218.58,467.84 219.31,467.52 220.04,467.19 222.61,466.01 225.17,464.8 227.74,463.57 230.3,462.31 232.87,461.04 235.43,459.76 238,458.47 240.56,457.18 243.13,455.88 245.69,454.59 248.26,453.3 250.82,452.02 253.39,450.74 255.95,449.46 258.52,448.2 261.08,446.94 263.65,445.69 266.21,444.45 268.78,443.21 271.34,441.99 273.91,440.77 276.47,439.56 279.04,438.36 281.6,437.17 284.17,435.99 286.73,434.82 289.3,433.65 291.86,432.49 294.43,431.34 296.99,430.19 299.56,429.05 302.12,427.92 304.69,426.8 307.25,425.68 309.82,424.56 312.38,423.45 314.95,422.35 317.51,421.25 320.08,420.15 322.64,419.06 330,415.95 337.35,412.86 344.71,409.79 352.06,406.72 359.42,403.67 366.77,400.62 374.13,397.56 381.49,394.49 388.84,391.41 396.2,388.31 403.55,385.2 410.91,382.06 418.26,378.89 425.62,375.69 432.97,372.46 440.33,369.2 447.68,365.9 455.04,362.56 462.39,359.18 469.75,355.76 477.1,352.29 484.46,348.78 491.82,345.22 499.17,341.62 506.53,337.96 513.88,334.25 521.24,330.49 528.59,326.67 535.95,322.8 543.3,318.88 550.66,314.9 558.01,310.86 565.37,306.76 572.72,302.61 580.08,298.4 587.43,294.12 594.79,289.79 602.15,285.39 609.5,280.94 616.86,276.42" stroke="#E95536"/>
<polyline points="142.28,32 142.28,35 142.36,38.88 142.73,55.03 143.09,70.45 143.46,85.19 143.83,99.29 144.19,112.8 144.56,125.73 144.93,138.14 145.29,150.05 145.66,161.48 146.02,172.47 146.39,183.03 146.76,193.19 147.12,202.97 147.49,212.38 147.86,221.45 148.22,230.19 148.59,238.62 148.96,246.74 149.32,254.58 149.69,262.15 150.06,269.46 150.42,276.51 150.79,283.32 151.15,289.9 151.52,296.26 151.89,302.41 152.25,308.35 152.62,314.1 152.99,319.66 153.35,325.03 153.72,330.23 154.09,335.26 154.45,340.13 154.82,344.84 155.19,349.4 155.55,353.81 155.92,358.09 156.28,362.23 156.65,366.23 157.02,370.11 157.38,373.87 157.75,377.51 158.12,381.03 158.48,384.45 158.85,387.76 159.22,390.96 159.58,394.06 159.95,397.07 160.32,399.98 160.68,402.81 161.05,405.54 161.41,408.19 162.15,413.25 162.88,418 163.61,422.45 164.35,426.64 165.08,430.57 165.81,434.26 166.54,437.72 167.28,440.97 168.01,444.02 168.74,446.87 169.48,449.56 170.21,452.07 170.94,454.43 171.67,456.63 172.41,458.7 173.14,460.63 173.87,462.44 174.61,464.13 175.34,465.7 176.07,467.17 176.8,468.55 177.54,469.82 178.27,471.01 179,472.12 179.74,473.14 180.47,474.09 181.2,474.97 181.93,475.78 182.67,476.52 183.4,477.21 184.13,477.84 184.87,478.41 185.6,478.93 186.33,479.41 187.06,479.83 187.8,480.22 188.53,480.56 189.26,480.86 190,481.13 190.73,481.36 191.46,481.56 192.19,481.72 192.93,481.86 193.66,481.97 194.39,482.05 195.13,482.1 195.86,482.14 196.59,482.14 197.32,482.13 198.06,482.09 198.79,482.04 199.52,481.97 200.26,481.88 200.99,481.77 201.72,481.65 202.45,481.51 203.19,481.36 203.92,481.19 204.65,481.02 205.39,480.83 206.12,480.62 206.85,480.41 207.58,480.19 208.32,479.96 209.05,479.72 209.78,479.47 210.52,479.21 211.25,478.94 211.98,478.67 212.71,478.39 213.45,478.11 214.18,477.81 214.91,477.51 215.65,477.21 216.38,476.9 217.11,476.59 217.84,476.27 218.58,475.95 219.31,475.62 220.04,475.29 222.61,474.11 225.17,472.89 227.74,471.65 230.3,470.39 232.87,469.11 235.43,467.82 238,466.52 240.56,465.23 243.13,463.93 245.69,462.63 248.26,461.33 250.82,460.04 253.39,458.76 255.95,457.48 258.52,456.21 261.08,454.94 263.65,453.69 266.21,452.44 268.78,451.2 271.34,449.97 273.91,448.75 276.47,447.54 279.04,446.34 281.6,445.14 284.17,443.96 286.73,442.78 289.3,441.61 291.86,440.45 294.43,439.29 296.99,438.14 299.56,437 302.12,435.87 304.69,434.74 307.25,433.62 309.82,432.5 312.38,431.39 314.95,430.28 317.51,429.18 320.08,428.08 322.64,426.99 330,423.87 337.35,420.78 344.71,417.7 352.06,414.64 359.42,411.58 366.77,408.52 374.13,405.46 381.49,402.39 388.84,399.31 396.2,396.21 403.55,393.08 410.91,389.94 418.26,386.77 425.62,383.56 432.97,380.33 440.33,377.06 447.68,373.75 455.04,370.4 462.39,367.02 469.75,363.59 477.1,360.11 484.46,356.59 491.82,353.02 499.17,349.4 506.53,345.73 513.88,342.01 521.24,338.24 528.59,334.41 535.95,330.53 543.3,326.6 550.66,322.6 558.01,318.55 565.37,314.44 572.72,310.28 580.08,306.05 587.43,301.76 594.79,297.41 602.15,293 609.5,288.53 616.86,284" stroke="#6685D9" stroke-dasharray="7.6 6.2" stroke-dashoffset="-3"/>
<polyline points="142.06,32 142.06,35 142.36,48.55 142.73,64.63 143.09,80 143.46,94.73 143.83,108.83 144.19,122.36 144.56,135.33 144.93,147.78 145.29,159.74 145.66,171.22 146.02,182.26 146.39,192.88 146.76,203.09 147.12,212.92 147.49,222.39 147.86,231.5 148.22,240.29 148.59,248.75 148.96,256.91 149.32,264.78 149.69,272.37 150.06,279.7 150.42,286.77 150.79,293.59 151.15,300.18 151.52,306.55 151.89,312.69 152.25,318.63 152.62,324.37 152.99,329.92 153.35,335.28 153.72,340.47 154.09,345.48 154.45,350.33 154.82,355.02 155.19,359.56 155.55,363.94 155.92,368.19 156.28,372.3 156.65,376.28 157.02,380.13 157.38,383.85 157.75,387.46 158.12,390.95 158.48,394.33 158.85,397.61 159.22,400.78 159.58,403.85 159.95,406.82 160.32,409.7 160.68,412.49 161.05,415.19 161.41,417.8 162.15,422.79 162.88,427.47 163.61,431.87 164.35,435.99 165.08,439.86 165.81,443.48 166.54,446.89 167.28,450.08 168.01,453.08 168.74,455.89 169.48,458.52 170.21,460.99 170.94,463.3 171.67,465.47 172.41,467.5 173.14,469.39 173.87,471.17 174.61,472.82 175.34,474.37 176.07,475.81 176.8,477.16 177.54,478.41 178.27,479.57 179,480.66 179.74,481.66 180.47,482.59 181.2,483.45 181.93,484.24 182.67,484.97 183.4,485.64 184.13,486.25 184.87,486.81 185.6,487.32 186.33,487.79 187.06,488.2 187.8,488.58 188.53,488.91 189.26,489.21 190,489.46 190.73,489.69 191.46,489.88 192.19,490.04 192.93,490.17 193.66,490.27 194.39,490.34 195.13,490.39 195.86,490.42 196.59,490.42 197.32,490.4 198.06,490.37 198.79,490.31 199.52,490.23 200.26,490.14 200.99,490.03 201.72,489.9 202.45,489.76 203.19,489.61 203.92,489.44 204.65,489.26 205.39,489.06 206.12,488.86 206.85,488.65 207.58,488.42 208.32,488.19 209.05,487.94 209.78,487.69 210.52,487.43 211.25,487.16 211.98,486.89 212.71,486.61 213.45,486.32 214.18,486.02 214.91,485.72 215.65,485.42 216.38,485.11 217.11,484.79 217.84,484.47 218.58,484.15 219.31,483.82 220.04,483.49 222.61,482.3 225.17,481.07 227.74,479.82 230.3,478.55 232.87,477.27 235.43,475.97 238,474.67 240.56,473.37 243.13,472.06 245.69,470.76 248.26,469.45 250.82,468.16 253.39,466.87 255.95,465.58 258.52,464.3 261.08,463.03 263.65,461.77 266.21,460.52 268.78,459.28 271.34,458.05 273.91,456.82 276.47,455.6 279.04,454.4 281.6,453.2 284.17,452.01 286.73,450.83 289.3,449.66 291.86,448.49 294.43,447.33 296.99,446.18 299.56,445.04 302.12,443.9 304.69,442.77 307.25,441.64 309.82,440.53 312.38,439.41 314.95,438.3 317.51,437.2 320.08,436.1 322.64,435 330,431.88 337.35,428.79 344.71,425.71 352.06,422.64 359.42,419.58 366.77,416.52 374.13,413.45 381.49,410.38 388.84,407.29 396.2,404.19 403.55,401.06 410.91,397.91 418.26,394.73 425.62,391.52 432.97,388.28 440.33,385 447.68,381.69 455.04,378.33 462.39,374.94 469.75,371.5 477.1,368.01 484.46,364.48 491.82,360.9 499.17,357.28 506.53,353.6 513.88,349.86 521.24,346.08 528.59,342.24 535.95,338.35 543.3,334.4 550.66,330.39 558.01,326.33 565.37,322.21 572.72,318.03 580.08,313.79 587.43,309.48 594.79,305.12 602.15,300.7 609.5,296.22 616.86,291.67" stroke="#F89F13"/>
<polyline points="141.85,32 141.85,35 141.99,41.65 142.36,58.34 142.73,74.33 143.09,89.66 143.46,104.37 143.83,118.48 144.19,132.03 144.56,145.03 144.93,157.53 145.29,169.53 145.66,181.07 146.02,192.17 146.39,202.84 146.76,213.11 147.12,222.99 147.49,232.51 147.86,241.67 148.22,250.49 148.59,259 148.96,267.19 149.32,275.09 149.69,282.71 150.06,290.05 150.42,297.14 150.79,303.98 151.15,310.57 151.52,316.94 151.89,323.09 152.25,329.03 152.62,334.76 152.99,340.3 153.35,345.65 153.72,350.82 154.09,355.81 154.45,360.64 154.82,365.31 155.19,369.82 155.55,374.19 155.92,378.4 156.28,382.49 156.65,386.43 157.02,390.25 157.38,393.95 157.75,397.52 158.12,400.98 158.48,404.33 158.85,407.57 159.22,410.7 159.58,413.74 159.95,416.67 160.32,419.52 160.68,422.27 161.05,424.94 161.41,427.52 162.15,432.44 162.88,437.05 163.61,441.38 164.35,445.44 165.08,449.24 165.81,452.81 166.54,456.16 167.28,459.3 168.01,462.24 168.74,465 169.48,467.59 170.21,470.01 170.94,472.28 171.67,474.4 172.41,476.39 173.14,478.25 173.87,479.99 174.61,481.61 175.34,483.13 176.07,484.54 176.8,485.86 177.54,487.09 178.27,488.23 179,489.29 179.74,490.27 180.47,491.18 181.2,492.02 181.93,492.8 182.67,493.51 183.4,494.17 184.13,494.76 184.87,495.31 185.6,495.81 186.33,496.26 187.06,496.67 187.8,497.03 188.53,497.35 189.26,497.64 190,497.89 190.73,498.11 191.46,498.29 192.19,498.44 192.93,498.56 193.66,498.66 194.39,498.73 195.13,498.77 195.86,498.8 196.59,498.79 197.32,498.77 198.06,498.73 198.79,498.67 199.52,498.59 200.26,498.49 200.99,498.37 201.72,498.25 202.45,498.1 203.19,497.94 203.92,497.77 204.65,497.59 205.39,497.39 206.12,497.19 206.85,496.97 207.58,496.74 208.32,496.51 209.05,496.26 209.78,496.01 210.52,495.74 211.25,495.47 211.98,495.2 212.71,494.91 213.45,494.62 214.18,494.32 214.91,494.02 215.65,493.71 216.38,493.4 217.11,493.08 217.84,492.76 218.58,492.43 219.31,492.1 220.04,491.77 222.61,490.57 225.17,489.34 227.74,488.09 230.3,486.81 232.87,485.52 235.43,484.22 238,482.91 240.56,481.6 243.13,480.28 245.69,478.97 248.26,477.66 250.82,476.36 253.39,475.06 255.95,473.77 258.52,472.49 261.08,471.22 263.65,469.95 266.21,468.69 268.78,467.45 271.34,466.21 273.91,464.98 276.47,463.76 279.04,462.55 281.6,461.35 284.17,460.15 286.73,458.97 289.3,457.79 291.86,456.62 294.43,455.46 296.99,454.31 299.56,453.16 302.12,452.02 304.69,450.89 307.25,449.76 309.82,448.64 312.38,447.53 314.95,446.41 317.51,445.31 320.08,444.21 322.64,443.11 330,439.99 337.35,436.89 344.71,433.8 352.06,430.73 359.42,427.67 366.77,424.6 374.13,421.53 381.49,418.46 388.84,415.36 396.2,412.25 403.55,409.12 410.91,405.97 418.26,402.78 425.62,399.57 432.97,396.32 440.33,393.04 447.68,389.71 455.04,386.35 462.39,382.95 469.75,379.5 477.1,376.01 484.46,372.46 491.82,368.88 499.17,365.24 506.53,361.55 513.88,357.8 521.24,354.01 528.59,350.16 535.95,346.25 543.3,342.29 550.66,338.27 558.01,334.19 565.37,330.06 572.72,325.86 580.08,321.61 587.43,317.29 594.79,312.92 602.15,308.48 609.5,303.98 616.86,299.42" stroke="#BC5B80" stroke-dasharray="7.6 6.2" stroke-dashoffset="-3"/>
<polyline points="141.64,32 141.64,35 141.99,51.66 142.36,68.23 142.73,84.14 143.09,99.43 143.46,114.12 143.83,128.23 144.19,141.8 144.56,154.84 144.93,167.38 145.29,179.43 145.66,191.03 146.02,202.18 146.39,212.91 146.76,223.23 147.12,233.17 147.49,242.73 147.86,251.94 148.22,260.81 148.59,269.36 148.96,277.58 149.32,285.51 149.69,293.16 150.06,300.52 150.42,307.63 150.79,314.48 151.15,321.08 151.52,327.45 151.89,333.6 152.25,339.54 152.62,345.26 152.99,350.79 153.35,356.13 153.72,361.28 154.09,366.26 154.45,371.07 154.82,375.71 155.19,380.2 155.55,384.54 155.92,388.73 156.28,392.78 156.65,396.7 157.02,400.49 157.38,404.15 157.75,407.69 158.12,411.12 158.48,414.43 158.85,417.63 159.22,420.74 159.58,423.74 159.95,426.64 160.32,429.45 160.68,432.17 161.05,434.8 161.41,437.34 162.15,442.19 162.88,446.74 163.61,451 164.35,454.99 165.08,458.74 165.81,462.25 166.54,465.53 167.28,468.62 168.01,471.51 168.74,474.22 169.48,476.75 170.21,479.13 170.94,481.35 171.67,483.44 172.41,485.39 173.14,487.21 173.87,488.91 174.61,490.5 175.34,491.99 176.07,493.37 176.8,494.66 177.54,495.86 178.27,496.98 179,498.02 179.74,498.98 180.47,499.87 181.2,500.69 181.93,501.45 182.67,502.14 183.4,502.78 184.13,503.37 184.87,503.9 185.6,504.39 186.33,504.83 187.06,505.22 187.8,505.58 188.53,505.89 189.26,506.17 190,506.41 190.73,506.62 191.46,506.79 192.19,506.94 192.93,507.05 193.66,507.14 194.39,507.21 195.13,507.25 195.86,507.26 196.59,507.26 197.32,507.23 198.06,507.18 198.79,507.12 199.52,507.03 200.26,506.93 200.99,506.81 201.72,506.68 202.45,506.53 203.19,506.37 203.92,506.2 204.65,506.01 205.39,505.81 206.12,505.6 206.85,505.38 207.58,505.15 208.32,504.92 209.05,504.67 209.78,504.41 210.52,504.15 211.25,503.87 211.98,503.59 212.71,503.31 213.45,503.01 214.18,502.72 214.91,502.41 215.65,502.1 216.38,501.79 217.11,501.47 217.84,501.14 218.58,500.81 219.31,500.48 220.04,500.15 222.61,498.94 225.17,497.71 227.74,496.44 230.3,495.16 232.87,493.86 235.43,492.55 238,491.24 240.56,489.92 243.13,488.6 245.69,487.28 248.26,485.97 250.82,484.66 253.39,483.35 255.95,482.06 258.52,480.77 261.08,479.49 263.65,478.22 266.21,476.96 268.78,475.7 271.34,474.46 273.91,473.23 276.47,472 279.04,470.79 281.6,469.58 284.17,468.38 286.73,467.2 289.3,466.02 291.86,464.84 294.43,463.68 296.99,462.52 299.56,461.38 302.12,460.23 304.69,459.1 307.25,457.97 309.82,456.84 312.38,455.73 314.95,454.61 317.51,453.51 320.08,452.4 322.64,451.31 330,448.18 337.35,445.07 344.71,441.99 352.06,438.91 359.42,435.84 366.77,432.78 374.13,429.7 381.49,426.62 388.84,423.52 396.2,420.41 403.55,417.27 410.91,414.11 418.26,410.92 425.62,407.7 432.97,404.45 440.33,401.16 447.68,397.83 455.04,394.46 462.39,391.04 469.75,387.59 477.1,384.08 484.46,380.53 491.82,376.93 499.17,373.28 506.53,369.58 513.88,365.83 521.24,362.02 528.59,358.16 535.95,354.24 543.3,350.26 550.66,346.23 558.01,342.14 565.37,337.99 572.72,333.78 580.08,329.52 587.43,325.19 594.79,320.8 602.15,316.35 609.5,311.83 616.86,307.26" stroke="#47B66D"/>
<polyline points="141.43,32 141.43,35 141.63,44.73 141.99,61.79 142.36,78.22 142.73,94.05 143.09,109.3 143.46,123.97 143.83,138.09 144.19,151.68 144.56,164.75 144.93,177.34 145.29,189.44 145.66,201.09 146.02,212.3 146.39,223.09 146.76,233.47 147.12,243.46 147.49,253.07 147.86,262.33 148.22,271.24 148.59,279.82 148.96,288.09 149.32,296.05 149.69,303.72 150.06,311.11 150.42,318.23 150.79,325.09 151.15,331.7 151.52,338.08 151.89,344.23 152.25,350.16 152.62,355.88 152.99,361.39 153.35,366.72 153.72,371.86 154.09,376.82 154.45,381.61 154.82,386.23 155.19,390.69 155.55,395 155.92,399.17 156.28,403.19 156.65,407.08 157.02,410.83 157.38,414.46 157.75,417.97 158.12,421.36 158.48,424.64 158.85,427.81 159.22,430.88 159.58,433.84 159.95,436.71 160.32,439.48 160.68,442.17 161.05,444.76 161.41,447.27 162.15,452.05 162.88,456.53 163.61,460.72 164.35,464.65 165.08,468.33 165.81,471.78 166.54,475.01 167.28,478.04 168.01,480.87 168.74,483.53 169.48,486.02 170.21,488.35 170.94,490.53 171.67,492.57 172.41,494.48 173.14,496.26 173.87,497.93 174.61,499.49 175.34,500.94 176.07,502.3 176.8,503.56 177.54,504.73 178.27,505.82 179,506.84 179.74,507.78 180.47,508.65 181.2,509.45 181.93,510.19 182.67,510.87 183.4,511.49 184.13,512.07 184.87,512.59 185.6,513.06 186.33,513.49 187.06,513.87 187.8,514.21 188.53,514.52 189.26,514.79 190,515.02 190.73,515.22 191.46,515.39 192.19,515.53 192.93,515.64 193.66,515.72 194.39,515.78 195.13,515.81 195.86,515.82 196.59,515.81 197.32,515.78 198.06,515.73 198.79,515.66 199.52,515.57 200.26,515.46 200.99,515.34 201.72,515.21 202.45,515.06 203.19,514.89 203.92,514.72 204.65,514.53 205.39,514.33 206.12,514.11 206.85,513.89 207.58,513.66 208.32,513.42 209.05,513.17 209.78,512.91 210.52,512.64 211.25,512.36 211.98,512.08 212.71,511.79 213.45,511.5 214.18,511.2 214.91,510.89 215.65,510.58 216.38,510.26 217.11,509.94 217.84,509.61 218.58,509.28 219.31,508.95 220.04,508.61 222.61,507.4 225.17,506.16 227.74,504.89 230.3,503.6 232.87,502.29 235.43,500.97 238,499.65 240.56,498.33 243.13,497 245.69,495.68 248.26,494.36 250.82,493.04 253.39,491.73 255.95,490.43 258.52,489.14 261.08,487.85 263.65,486.57 266.21,485.31 268.78,484.05 271.34,482.8 273.91,481.56 276.47,480.33 279.04,479.12 281.6,477.91 284.17,476.71 286.73,475.51 289.3,474.33 291.86,473.15 294.43,471.99 296.99,470.83 299.56,469.68 302.12,468.53 304.69,467.39 307.25,466.26 309.82,465.14 312.38,464.02 314.95,462.9 317.51,461.79 320.08,460.69 322.64,459.59 330,456.45 337.35,453.35 344.71,450.26 352.06,447.18 359.42,444.11 366.77,441.04 374.13,437.96 381.49,434.87 388.84,431.77 396.2,428.65 403.55,425.51 410.91,422.35 418.26,419.15 425.62,415.92 432.97,412.66 440.33,409.37 447.68,406.03 455.04,402.65 462.39,399.23 469.75,395.76 477.1,392.25 484.46,388.69 491.82,385.08 499.17,381.42 506.53,377.7 513.88,373.94 521.24,370.12 528.59,366.24 535.95,362.31 543.3,358.32 550.66,354.28 558.01,350.18 565.37,346.01 572.72,341.79 580.08,337.51 587.43,333.17 594.79,328.76 602.15,324.3 609.5,319.77 616.86,315.18" stroke="#5E81B5" stroke-dasharray="7.6 6.2" stroke-dashoffset="-3"/>
<polyline points="141.21,32 141.21,35 141.26,37.7 141.63,55.15 141.99,72.02 142.36,88.33 142.73,104.08 143.09,119.27 143.46,133.93 143.83,148.05 144.19,161.66 144.56,174.77 144.93,187.4 145.29,199.56 145.66,211.26 146.02,222.53 146.39,233.37 146.76,243.81 147.12,253.86 147.49,263.52 147.86,272.83 148.22,281.78 148.59,290.41 148.96,298.71 149.32,306.7 149.69,314.39 150.06,321.8 150.42,328.94 150.79,335.81 151.15,342.43 151.52,348.82 151.89,354.96 152.25,360.89 152.62,366.6 152.99,372.11 153.35,377.42 153.72,382.55 154.09,387.49 154.45,392.26 154.82,396.86 155.19,401.3 155.55,405.58 155.92,409.72 156.28,413.71 156.65,417.57 157.02,421.29 157.38,424.89 157.75,428.36 158.12,431.72 158.48,434.96 158.85,438.1 159.22,441.13 159.58,444.06 159.95,446.89 160.32,449.63 160.68,452.27 161.05,454.83 161.41,457.31 162.15,462.02 162.88,466.43 163.61,470.55 164.35,474.41 165.08,478.03 165.81,481.41 166.54,484.58 167.28,487.55 168.01,490.34 168.74,492.94 169.48,495.38 170.21,497.66 170.94,499.8 171.67,501.8 172.41,503.66 173.14,505.41 173.87,507.04 174.61,508.57 175.34,509.99 176.07,511.31 176.8,512.55 177.54,513.7 178.27,514.76 179,515.75 179.74,516.67 180.47,517.52 181.2,518.3 181.93,519.03 182.67,519.69 183.4,520.3 184.13,520.86 184.87,521.36 185.6,521.82 186.33,522.24 187.06,522.61 187.8,522.94 188.53,523.24 189.26,523.5 190,523.72 190.73,523.91 191.46,524.07 192.19,524.21 192.93,524.31 193.66,524.39 194.39,524.44 195.13,524.47 195.86,524.47 196.59,524.46 197.32,524.42 198.06,524.36 198.79,524.29 199.52,524.2 200.26,524.09 200.99,523.96 201.72,523.82 202.45,523.67 203.19,523.5 203.92,523.32 204.65,523.13 205.39,522.93 206.12,522.71 206.85,522.49 207.58,522.25 208.32,522.01 209.05,521.75 209.78,521.49 210.52,521.22 211.25,520.95 211.98,520.66 212.71,520.37 213.45,520.07 214.18,519.77 214.91,519.46 215.65,519.15 216.38,518.83 217.11,518.51 217.84,518.18 218.58,517.84 219.31,517.51 220.04,517.17 222.61,515.95 225.17,514.7 227.74,513.42 230.3,512.12 232.87,510.81 235.43,509.49 238,508.16 240.56,506.83 243.13,505.49 245.69,504.16 248.26,502.84 250.82,501.52 253.39,500.2 255.95,498.89 258.52,497.59 261.08,496.3 263.65,495.02 266.21,493.75 268.78,492.48 271.34,491.23 273.91,489.99 276.47,488.76 279.04,487.53 281.6,486.32 284.17,485.11 286.73,483.92 289.3,482.73 291.86,481.55 294.43,480.38 296.99,479.22 299.56,478.07 302.12,476.92 304.69,475.78 307.25,474.65 309.82,473.52 312.38,472.4 314.95,471.28 317.51,470.17 320.08,469.06 322.64,467.96 330,464.82 337.35,461.71 344.71,458.62 352.06,455.53 359.42,452.46 366.77,449.38 374.13,446.3 381.49,443.21 388.84,440.11 396.2,436.99 403.55,433.84 410.91,430.67 418.26,427.47 425.62,424.24 432.97,420.97 440.33,417.66 447.68,414.32 455.04,410.93 462.39,407.5 469.75,404.02 477.1,400.5 484.46,396.93 491.82,393.31 499.17,389.64 506.53,385.91 513.88,382.14 521.24,378.3 528.59,374.42 535.95,370.47 543.3,366.47 550.66,362.41 558.01,358.3 565.37,354.12 572.72,349.88 580.08,345.59 587.43,341.23 594.79,336.81 602.15,332.33 609.5,327.79 616.86,323.19" stroke="#E19C24"/>
</g>
<rect x="92.36" y="10.20" width="534.21" height="541.20" fill="none" stroke="#888888" stroke-width="1.05"/>
<path d="M102.79 551.40v-8.00M102.79 10.20v8.00M117.44 551.40v-4.80M117.44 10.20v4.80M132.10 551.40v-4.80M132.10 10.20v4.80M146.76 551.40v-4.80M146.76 10.20v4.80M161.41 551.40v-4.80M161.41 10.20v4.80M176.07 551.40v-8.00M176.07 10.20v8.00M190.73 551.40v-4.80M190.73 10.20v4.80M205.39 551.40v-4.80M205.39 10.20v4.80M220.04 551.40v-4.80M220.04 10.20v4.80M234.70 551.40v-4.80M234.70 10.20v4.80M249.36 551.40v-8.00M249.36 10.20v8.00M264.01 551.40v-4.80M264.01 10.20v4.80M278.67 551.40v-4.80M278.67 10.20v4.80M293.33 551.40v-4.80M293.33 10.20v4.80M307.99 551.40v-4.80M307.99 10.20v4.80M322.64 551.40v-8.00M322.64 10.20v8.00M337.30 551.40v-4.80M337.30 10.20v4.80M351.96 551.40v-4.80M351.96 10.20v4.80M366.61 551.40v-4.80M366.61 10.20v4.80M381.27 551.40v-4.80M381.27 10.20v4.80M395.93 551.40v-8.00M395.93 10.20v8.00M410.59 551.40v-4.80M410.59 10.20v4.80M425.24 551.40v-4.80M425.24 10.20v4.80M439.90 551.40v-4.80M439.90 10.20v4.80M454.56 551.40v-4.80M454.56 10.20v4.80M469.21 551.40v-8.00M469.21 10.20v8.00M483.87 551.40v-4.80M483.87 10.20v4.80M498.53 551.40v-4.80M498.53 10.20v4.80M513.19 551.40v-4.80M513.19 10.20v4.80M527.84 551.40v-4.80M527.84 10.20v4.80M542.50 551.40v-8.00M542.50 10.20v8.00M557.16 551.40v-4.80M557.16 10.20v4.80M571.81 551.40v-4.80M571.81 10.20v4.80M586.47 551.40v-4.80M586.47 10.20v4.80M601.13 551.40v-4.80M601.13 10.20v4.80M615.79 551.40v-8.00M615.79 10.20v8.00M92.36 521.38h4.60M626.57 521.38h-4.60M92.36 489.54h4.60M626.57 489.54h-4.60M92.36 457.70h7.50M626.57 457.70h-7.50M92.36 425.86h4.60M626.57 425.86h-4.60M92.36 394.02h4.60M626.57 394.02h-4.60M92.36 362.18h4.60M626.57 362.18h-4.60M92.36 330.34h4.60M626.57 330.34h-4.60M92.36 266.66h4.60M626.57 266.66h-4.60M92.36 234.82h4.60M626.57 234.82h-4.60M92.36 202.98h4.60M626.57 202.98h-4.60M92.36 171.14h4.60M626.57 171.14h-4.60M92.36 139.30h7.50M626.57 139.30h-7.50M92.36 107.46h4.60M626.57 107.46h-4.60M92.36 75.62h4.60M626.57 75.62h-4.60M92.36 43.78h4.60M626.57 43.78h-4.60M92.36 11.94h4.60M626.57 11.94h-4.60" fill="none" stroke="#707070" stroke-width="0.90"/>
</g>
<text transform="translate(143.90,577.20) scale(1.3500,1.0000)" font-family="&quot;Liberation Sans&quot;, sans-serif" font-size="22.80" font-weight="bold" text-anchor="middle" stroke="#000" stroke-width="0.30">0</text>
<text transform="translate(246.50,577.20) scale(1.3500,1.0000)" font-family="&quot;Liberation Sans&quot;, sans-serif" font-size="22.80" font-weight="bold" text-anchor="middle" stroke="#000" stroke-width="0.30">1</text>
<text transform="translate(349.10,577.20) scale(1.3500,1.0000)" font-family="&quot;Liberation Sans&quot;, sans-serif" font-size="22.80" font-weight="bold" text-anchor="middle" stroke="#000" stroke-width="0.30">2</text>
<text transform="translate(451.70,577.20) scale(1.3500,1.0000)" font-family="&quot;Liberation Sans&quot;, sans-serif" font-size="22.80" font-weight="bold" text-anchor="middle" stroke="#000" stroke-width="0.30">3</text>
<text transform="translate(554.30,577.20) scale(1.3500,1.0000)" font-family="&quot;Liberation Sans&quot;, sans-serif" font-size="22.80" font-weight="bold" text-anchor="middle" stroke="#000" stroke-width="0.30">4</text>
<text transform="translate(656.90,577.20) scale(1.3500,1.0000)" font-family="&quot;Liberation Sans&quot;, sans-serif" font-size="22.80" font-weight="bold" text-anchor="middle" stroke="#000" stroke-width="0.30">5</text>
<text transform="translate(759.50,577.20) scale(1.3500,1.0000)" font-family="&quot;Liberation Sans&quot;, sans-serif" font-size="22.80" font-weight="bold" text-anchor="middle" stroke="#000" stroke-width="0.30">6</text>
<text transform="translate(862.10,577.20) scale(1.3500,1.0000)" font-family="&quot;Liberation Sans&quot;, sans-serif" font-size="22.80" font-weight="bold" text-anchor="middle" stroke="#000" stroke-width="0.30">7</text>
<text transform="translate(121.90,146.80) scale(1.3500,1.0000)" font-family="&quot;Liberation Sans&quot;, sans-serif" font-size="22.80" font-weight="bold" text-anchor="end" stroke="#000" stroke-width="0.30">0.0</text>
<text transform="translate(121.90,306.00) scale(1.3500,1.0000)" font-family="&quot;Liberation Sans&quot;, sans-serif" font-size="22.80" font-weight="bold" text-anchor="end" stroke="#000" stroke-width="0.30">−0.5</text>
<text transform="translate(121.90,465.20) scale(1.3500,1.0000)" font-family="&quot;Liberation Sans&quot;, sans-serif" font-size="22.80" font-weight="bold" text-anchor="end" stroke="#000" stroke-width="0.30">−1.0</text>
<text transform="translate(391.00,615.20) scale(1.4000,1.0000)" font-family="&quot;Liberation Sans&quot;, sans-serif" font-size="22.30" font-weight="bold" text-anchor="start" stroke="#000" stroke-width="0.30">Shell radius <tspan x="133.20" y="0.10" font-size="21.80" textLength="6.20" lengthAdjust="spacingAndGlyphs">(</tspan><tspan x="141.60" y="0.20" font-size="16.10" font-style="italic" textLength="10.75" lengthAdjust="spacingAndGlyphs">ϑ</tspan><tspan x="154.00" y="0.10" font-size="21.80" font-style="normal" textLength="6.20" lengthAdjust="spacingAndGlyphs">)</tspan></text>
<text transform="translate(37.30,410.60) rotate(-90) scale(0.7130,1.0000)" font-family="&quot;Liberation Sans&quot;, sans-serif" font-size="32.00" font-weight="bold" text-anchor="start" stroke="#000" stroke-width="0.30">Effective potential <tspan x="282.73" y="0.25" font-size="29.70" font-weight="normal" stroke="#000" stroke-width="0.45">(</tspan><tspan x="289.68" y="1.30" font-size="30.20" font-weight="normal" font-family="&quot;DejaVu Math TeX Gyre&quot;, &quot;DejaVu Sans&quot;, sans-serif" textLength="37.64" lengthAdjust="spacingAndGlyphs" stroke="#000" stroke-width="1.10">ℋ</tspan><tspan x="325.23" y="0.25" font-size="29.70" font-weight="normal" font-style="normal" stroke="#000" stroke-width="0.45">(</tspan><tspan x="338.02" y="0.50" font-size="21.60" font-weight="bold" font-style="italic" textLength="13.84" lengthAdjust="spacingAndGlyphs">ϑ</tspan><tspan x="353.82" y="0.25" font-size="29.70" font-weight="normal" font-style="normal" stroke="#000" stroke-width="0.45">)</tspan><tspan x="364.76" y="0.25" font-size="29.70" font-weight="normal" font-style="normal" stroke="#000" stroke-width="0.45">)</tspan></text>
<rect x="927.40" y="541.20" width="20.50" height="60.20" fill="#5E81B5"/>
<rect x="927.40" y="484.10" width="20.50" height="57.40" fill="#E19C24"/>
<rect x="927.40" y="428.10" width="20.50" height="56.30" fill="#8FB032"/>
<rect x="927.40" y="370.90" width="20.50" height="57.50" fill="#EB6235"/>
<rect x="927.40" y="309.60" width="20.50" height="61.60" fill="#8778B3"/>
<rect x="927.40" y="253.70" width="20.50" height="56.20" fill="#C56E1A"/>
<rect x="927.40" y="197.00" width="20.50" height="57.00" fill="#5D9EC7"/>
<rect x="927.40" y="139.60" width="20.50" height="57.70" fill="#FFBF00"/>
<rect x="927.40" y="83.40" width="20.50" height="56.50" fill="#A5609D"/>
<rect x="927.40" y="81.00" width="20.50" height="2.60" fill="#929600"/>
<path d="M947.90 81.70h5.50M947.90 102.48h3.00M947.90 123.26h3.00M947.90 144.04h3.00M947.90 164.82h3.00M947.90 185.60h5.50M947.90 206.16h3.00M947.90 226.72h3.00M947.90 247.28h3.00M947.90 267.84h3.00M947.90 288.40h5.50M947.90 309.42h3.00M947.90 330.44h3.00M947.90 351.46h3.00M947.90 372.48h3.00M947.90 393.50h5.50M947.90 414.34h3.00M947.90 435.18h3.00M947.90 456.02h3.00M947.90 476.86h3.00M947.90 497.70h5.50M947.90 518.48h3.00M947.90 539.26h3.00M947.90 560.04h3.00M947.90 580.82h3.00M947.90 601.60h5.50" fill="none" stroke="#bdbdbd" stroke-width="1.00"/>
<text transform="translate(959.20,92.80) scale(0.5500,1.0000)" font-family="&quot;Liberation Sans&quot;, sans-serif" font-size="35.60" font-weight="bold" text-anchor="start">1.0</text>
<text transform="translate(959.20,196.70) scale(0.5500,1.0000)" font-family="&quot;Liberation Sans&quot;, sans-serif" font-size="35.60" font-weight="bold" text-anchor="start">0.9</text>
<text transform="translate(959.20,299.50) scale(0.5500,1.0000)" font-family="&quot;Liberation Sans&quot;, sans-serif" font-size="35.60" font-weight="bold" text-anchor="start">0.8</text>
<text transform="translate(959.20,404.60) scale(0.5500,1.0000)" font-family="&quot;Liberation Sans&quot;, sans-serif" font-size="35.60" font-weight="bold" text-anchor="start">0.7</text>
<text transform="translate(959.20,508.80) scale(0.5500,1.0000)" font-family="&quot;Liberation Sans&quot;, sans-serif" font-size="35.60" font-weight="bold" text-anchor="start">0.6</text>
<text transform="translate(959.20,612.70) scale(0.5500,1.0000)" font-family="&quot;Liberation Sans&quot;, sans-serif" font-size="35.60" font-weight="bold" text-anchor="start">0.5</text>
<text transform="translate(936.60,42.60) scale(0.7000,1.0000)" font-family="&quot;DejaVu Math TeX Gyre&quot;, &quot;DejaVu Sans&quot;, sans-serif" font-size="28.90" text-anchor="start" textLength="36.73" lengthAdjust="spacingAndGlyphs" stroke="#000" stroke-width="0.9">ℳ</text>
<text transform="translate(960.60,50.00) scale(0.7000,1.0000)" font-family="&quot;Liberation Sans&quot;, sans-serif" font-weight="bold" font-size="19.00" text-anchor="start">+</text>
<clipPath id="cp1"><rect x="820.50" y="35.00" width="534.21" height="516.40"/></clipPath>
<g transform="scale(1.4000,1)">
<line x1="904.57" x2="904.57" y1="10.20" y2="551.40" stroke="#e2e2e2" stroke-width="0.75"/>
<line x1="977.86" x2="977.86" y1="10.20" y2="551.40" stroke="#e2e2e2" stroke-width="0.75"/>
<line x1="1051.14" x2="1051.14" y1="10.20" y2="551.40" stroke="#e2e2e2" stroke-width="0.75"/>
<line x1="1124.43" x2="1124.43" y1="10.20" y2="551.40" stroke="#e2e2e2" stroke-width="0.75"/>
<line x1="1197.71" x2="1197.71" y1="10.20" y2="551.40" stroke="#e2e2e2" stroke-width="0.75"/>
<line x1="1271.00" x2="1271.00" y1="10.20" y2="551.40" stroke="#e2e2e2" stroke-width="0.75"/>
<line x1="820.50" x2="1355.14" y1="60.70" y2="60.70" stroke="#e6e6e6" stroke-width="0.75"/>
<line x1="820.50" x2="1355.14" y1="272.50" y2="272.50" stroke="#e2e2e2" stroke-width="0.75"/>
<g clip-path="url(#cp1)" fill="none" stroke-width="3.80" stroke-linejoin="round">
<polyline points="865.82,32 865.82,35 866.1,48.55 866.46,65.62 866.83,81.77 867.2,97.08 867.56,111.63 867.93,125.47 868.3,138.65 868.66,151.23 869.03,163.25 869.39,174.74 869.76,185.75 870.13,196.29 870.49,206.4 870.86,216.1 871.23,225.42 871.59,234.37 871.96,242.98 872.33,251.25 872.69,259.22 873.06,266.88 873.43,274.27 873.79,281.37 874.16,288.22 874.52,294.82 874.89,301.18 875.26,307.31 875.62,313.22 875.99,318.91 876.36,324.4 876.72,329.7 877.09,334.8 877.46,339.72 877.82,344.47 878.19,349.04 878.55,353.45 878.92,357.7 879.29,361.8 879.65,365.75 880.02,369.56 880.39,373.23 880.75,376.76 881.12,380.17 881.49,383.45 881.85,386.61 882.22,389.65 882.59,392.58 882.95,395.4 883.32,398.12 883.68,400.73 884.05,403.24 884.42,405.66 884.78,407.98 885.15,410.21 885.52,412.36 885.88,414.42 886.25,416.4 886.62,418.29 886.98,420.12 887.35,421.87 887.72,423.54 888.08,425.15 888.45,426.69 888.81,428.16 889.18,429.57 889.55,430.92 889.91,432.21 890.65,434.62 891.38,436.81 892.11,438.8 892.85,440.6 893.58,442.21 894.31,443.67 895.04,444.96 895.78,446.11 896.51,447.12 897.24,447.99 897.98,448.75 898.71,449.39 899.44,449.93 900.17,450.36 900.91,450.7 901.64,450.95 902.37,451.12 903.11,451.21 903.84,451.23 904.57,451.18 905.3,451.06 906.04,450.89 906.77,450.65 907.5,450.37 908.24,450.04 908.97,449.66 909.7,449.24 910.43,448.78 911.17,448.28 911.9,447.75 912.63,447.18 913.37,446.59 914.1,445.96 914.83,445.31 915.56,444.64 916.3,443.94 917.03,443.22 917.76,442.48 918.5,441.73 919.23,440.96 919.96,440.17 920.69,439.37 921.43,438.56 922.16,437.73 922.89,436.9 923.63,436.05 924.36,435.2 925.09,434.34 925.82,433.47 926.56,432.59 927.29,431.71 928.02,430.83 928.76,429.94 929.49,429.04 930.22,428.15 930.95,427.25 931.69,426.35 932.42,425.44 933.15,424.54 933.89,423.64 934.62,422.73 935.35,421.83 936.08,420.92 936.82,420.02 937.55,419.12 938.28,418.22 939.02,417.32 939.75,416.42 940.48,415.53 941.21,414.63 941.95,413.74 942.68,412.86 943.41,411.97 944.15,411.09 944.88,410.21 945.61,409.34 946.34,408.47 947.08,407.6 947.81,406.74 948.54,405.88 951.11,402.9 953.67,399.98 956.24,397.11 958.8,394.3 961.37,391.55 963.93,388.86 966.5,386.23 969.06,383.66 971.63,381.15 974.19,378.69 976.76,376.3 979.32,373.96 981.89,371.67 984.45,369.44 987.02,367.26 989.58,365.14 992.15,363.06 994.71,361.03 997.28,359.05 999.84,357.12 1002.41,355.23 1004.97,353.38 1007.54,351.58 1010.1,349.82 1012.67,348.09 1015.23,346.4 1017.8,344.75 1020.36,343.14 1022.93,341.56 1025.49,340.01 1028.06,338.49 1030.62,337.01 1033.19,335.55 1035.75,334.12 1038.32,332.72 1040.88,331.35 1043.45,330 1046.01,328.67 1048.58,327.37 1051.14,326.1 1058.5,322.55 1065.85,319.16 1073.21,315.92 1080.56,312.81 1087.92,309.8 1095.27,306.9 1102.63,304.09 1109.99,301.35 1117.34,298.68 1124.7,296.07 1132.05,293.5 1139.41,290.98 1146.76,288.49 1154.12,286.02 1161.47,283.58 1168.83,281.15 1176.18,278.74 1183.54,276.32 1190.89,273.91 1198.25,271.5 1205.6,269.07 1212.96,266.64 1220.32,264.19 1227.67,261.72 1235.03,259.23 1242.38,256.72 1249.74,254.19 1257.09,251.62 1264.45,249.02 1271.8,246.39 1279.16,243.73 1286.51,241.03 1293.87,238.29 1301.22,235.51 1308.58,232.69 1315.93,229.82 1323.29,226.91 1330.65,223.96 1338,220.95 1345.36,217.9" stroke="#5E81B5"/>
<polyline points="865.68,32 865.68,35 865.73,37.66 866.1,55.67 866.46,72.67 866.83,88.77 867.2,104.04 867.56,118.54 867.93,132.33 868.3,145.48 868.66,158.02 869.03,170.01 869.39,181.47 869.76,192.44 870.13,202.95 870.49,213.02 870.86,222.69 871.23,231.98 871.59,240.9 871.96,249.48 872.33,257.72 872.69,265.66 873.06,273.29 873.43,280.65 873.79,287.72 874.16,294.54 874.52,301.11 874.89,307.44 875.26,313.53 875.62,319.41 875.99,325.07 876.36,330.53 876.72,335.8 877.09,340.87 877.46,345.76 877.82,350.47 878.19,355.01 878.55,359.39 878.92,363.61 879.29,367.68 879.65,371.6 880.02,375.37 880.39,379.01 880.75,382.51 881.12,385.89 881.49,389.14 881.85,392.27 882.22,395.28 882.59,398.18 882.95,400.97 883.32,403.66 883.68,406.24 884.05,408.72 884.42,411.11 884.78,413.4 885.15,415.61 885.52,417.73 885.88,419.76 886.25,421.71 886.62,423.59 886.98,425.38 887.35,427.11 887.72,428.76 888.08,430.34 888.45,431.86 888.81,433.31 889.18,434.69 889.55,436.02 889.91,437.29 890.65,439.65 891.38,441.8 892.11,443.75 892.85,445.51 893.58,447.1 894.31,448.51 895.04,449.77 895.78,450.89 896.51,451.87 897.24,452.72 897.98,453.45 898.71,454.07 899.44,454.58 900.17,454.99 900.91,455.3 901.64,455.54 902.37,455.68 903.11,455.76 903.84,455.76 904.57,455.69 905.3,455.56 906.04,455.37 906.77,455.13 907.5,454.83 908.24,454.48 908.97,454.1 909.7,453.66 910.43,453.19 911.17,452.69 911.9,452.14 912.63,451.57 913.37,450.97 914.1,450.33 914.83,449.68 915.56,449 916.3,448.29 917.03,447.57 917.76,446.83 918.5,446.07 919.23,445.29 919.96,444.5 920.69,443.7 921.43,442.88 922.16,442.05 922.89,441.21 923.63,440.37 924.36,439.51 925.09,438.65 925.82,437.77 926.56,436.9 927.29,436.01 928.02,435.13 928.76,434.24 929.49,433.34 930.22,432.44 930.95,431.54 931.69,430.64 932.42,429.73 933.15,428.83 933.89,427.92 934.62,427.02 935.35,426.11 936.08,425.21 936.82,424.3 937.55,423.4 938.28,422.5 939.02,421.6 939.75,420.7 940.48,419.8 941.21,418.91 941.95,418.02 942.68,417.13 943.41,416.24 944.15,415.36 944.88,414.48 945.61,413.61 946.34,412.73 947.08,411.87 947.81,411 948.54,410.14 951.11,407.16 953.67,404.23 956.24,401.36 958.8,398.54 961.37,395.78 963.93,393.08 966.5,390.44 969.06,387.86 971.63,385.34 974.19,382.88 976.76,380.47 979.32,378.12 981.89,375.82 984.45,373.58 987.02,371.39 989.58,369.26 992.15,367.17 994.71,365.13 997.28,363.14 999.84,361.19 1002.41,359.29 1004.97,357.44 1007.54,355.62 1010.1,353.84 1012.67,352.11 1015.23,350.41 1017.8,348.75 1020.36,347.12 1022.93,345.53 1025.49,343.97 1028.06,342.45 1030.62,340.95 1033.19,339.48 1035.75,338.04 1038.32,336.63 1040.88,335.25 1043.45,333.89 1046.01,332.56 1048.58,331.25 1051.14,329.96 1058.5,326.39 1065.85,322.99 1073.21,319.72 1080.56,316.59 1087.92,313.57 1095.27,310.66 1102.63,307.83 1109.99,305.08 1117.34,302.4 1124.7,299.78 1132.05,297.21 1139.41,294.68 1146.76,292.18 1154.12,289.72 1161.47,287.27 1168.83,284.84 1176.18,282.42 1183.54,280.01 1190.89,277.6 1198.25,275.18 1205.6,272.75 1212.96,270.32 1220.32,267.87 1227.67,265.4 1235.03,262.91 1242.38,260.4 1249.74,257.86 1257.09,255.29 1264.45,252.69 1271.8,250.05 1279.16,247.38 1286.51,244.67 1293.87,241.93 1301.22,239.14 1308.58,236.31 1315.93,233.43 1323.29,230.51 1330.65,227.54 1338,224.52 1345.36,221.45" stroke="#E19C24" stroke-dasharray="7.6 6.2" stroke-dashoffset="-3"/>
<polyline points="865.54,32 865.54,35 865.73,44.83 866.1,62.78 866.46,79.73 866.83,95.77 867.2,110.99 867.56,125.45 867.93,139.2 868.3,152.31 868.66,164.81 869.03,176.76 869.39,188.19 869.76,199.12 870.13,209.6 870.49,219.65 870.86,229.29 871.23,238.54 871.59,247.43 871.96,255.98 872.33,264.2 872.69,272.1 873.06,279.7 873.43,287.02 873.79,294.07 874.16,300.86 874.52,307.4 874.89,313.69 875.26,319.76 875.62,325.6 875.99,331.24 876.36,336.66 876.72,341.89 877.09,346.94 877.46,351.79 877.82,356.47 878.19,360.98 878.55,365.33 878.92,369.52 879.29,373.55 879.65,377.44 880.02,381.19 880.39,384.79 880.75,388.26 881.12,391.61 881.49,394.83 881.85,397.93 882.22,400.91 882.59,403.78 882.95,406.54 883.32,409.19 883.68,411.75 884.05,414.2 884.42,416.56 884.78,418.83 885.15,421.01 885.52,423.1 885.88,425.1 886.25,427.03 886.62,428.88 886.98,430.65 887.35,432.35 887.72,433.97 888.08,435.53 888.45,437.02 888.81,438.45 889.18,439.82 889.55,441.12 889.91,442.36 890.65,444.69 891.38,446.8 892.11,448.71 892.85,450.43 893.58,451.98 894.31,453.36 895.04,454.59 895.78,455.67 896.51,456.62 897.24,457.44 897.98,458.15 898.71,458.74 899.44,459.22 900.17,459.61 900.91,459.91 901.64,460.12 902.37,460.25 903.11,460.3 903.84,460.29 904.57,460.2 905.3,460.06 906.04,459.85 906.77,459.6 907.5,459.29 908.24,458.93 908.97,458.53 909.7,458.09 910.43,457.61 911.17,457.09 911.9,456.54 912.63,455.96 913.37,455.35 914.1,454.71 914.83,454.05 915.56,453.36 916.3,452.65 917.03,451.92 917.76,451.17 918.5,450.41 919.23,449.63 919.96,448.83 920.69,448.03 921.43,447.21 922.16,446.37 922.89,445.53 923.63,444.68 924.36,443.82 925.09,442.96 925.82,442.08 926.56,441.2 927.29,440.32 928.02,439.43 928.76,438.53 929.49,437.64 930.22,436.74 930.95,435.84 931.69,434.93 932.42,434.03 933.15,433.12 933.89,432.21 934.62,431.31 935.35,430.4 936.08,429.49 936.82,428.59 937.55,427.68 938.28,426.78 939.02,425.88 939.75,424.98 940.48,424.08 941.21,423.18 941.95,422.29 942.68,421.4 943.41,420.51 944.15,419.63 944.88,418.75 945.61,417.87 946.34,417 947.08,416.13 947.81,415.26 948.54,414.4 951.11,411.41 953.67,408.48 956.24,405.6 958.8,402.78 961.37,400.01 963.93,397.3 966.5,394.65 969.06,392.06 971.63,389.53 974.19,387.06 976.76,384.64 979.32,382.28 981.89,379.98 984.45,377.72 987.02,375.52 989.58,373.38 992.15,371.28 994.71,369.23 997.28,367.23 999.84,365.27 1002.41,363.36 1004.97,361.49 1007.54,359.66 1010.1,357.87 1012.67,356.13 1015.23,354.42 1017.8,352.74 1020.36,351.11 1022.93,349.5 1025.49,347.94 1028.06,346.4 1030.62,344.89 1033.19,343.41 1035.75,341.97 1038.32,340.55 1040.88,339.15 1043.45,337.79 1046.01,336.44 1048.58,335.12 1051.14,333.83 1058.5,330.24 1065.85,326.81 1073.21,323.53 1080.56,320.38 1087.92,317.34 1095.27,314.41 1102.63,311.57 1109.99,308.81 1117.34,306.12 1124.7,303.5 1132.05,300.92 1139.41,298.38 1146.76,295.88 1154.12,293.41 1161.47,290.96 1168.83,288.53 1176.18,286.11 1183.54,283.69 1190.89,281.28 1198.25,278.86 1205.6,276.44 1212.96,274 1220.32,271.55 1227.67,269.08 1235.03,266.59 1242.38,264.07 1249.74,261.53 1257.09,258.96 1264.45,256.35 1271.8,253.71 1279.16,251.04 1286.51,248.32 1293.87,245.57 1301.22,242.77 1308.58,239.93 1315.93,237.04 1323.29,234.11 1330.65,231.12 1338,228.09 1345.36,225" stroke="#8FB032"/>
<polyline points="865.4,32 865.4,35 865.73,52.01 866.1,69.89 866.46,86.78 866.83,102.77 867.2,117.94 867.56,132.35 867.93,146.07 868.3,159.14 868.66,171.61 869.03,183.52 869.39,194.91 869.76,205.81 870.13,216.26 870.49,226.27 870.86,235.88 871.23,245.1 871.59,253.97 871.96,262.48 872.33,270.67 872.69,278.54 873.06,286.11 873.43,293.4 873.79,300.42 874.16,307.18 874.52,313.68 874.89,319.95 875.26,325.98 875.62,331.8 875.99,337.4 876.36,342.79 876.72,347.99 877.09,353 877.46,357.83 877.82,362.48 878.19,366.96 878.55,371.27 878.92,375.43 879.29,379.43 879.65,383.28 880.02,387 880.39,390.57 880.75,394.01 881.12,397.33 881.49,400.52 881.85,403.58 882.22,406.54 882.59,409.38 882.95,412.11 883.32,414.73 883.68,417.26 884.05,419.68 884.42,422.01 884.78,424.25 885.15,426.4 885.52,428.47 885.88,430.45 886.25,432.35 886.62,434.17 886.98,435.92 887.35,437.59 887.72,439.19 888.08,440.72 888.45,442.19 888.81,443.6 889.18,444.94 889.55,446.22 889.91,447.44 890.65,449.72 891.38,451.79 892.11,453.66 892.85,455.35 893.58,456.86 894.31,458.21 895.04,459.4 895.78,460.46 896.51,461.38 897.24,462.17 897.98,462.84 898.71,463.41 899.44,463.87 900.17,464.24 900.91,464.51 901.64,464.7 902.37,464.81 903.11,464.85 903.84,464.81 904.57,464.72 905.3,464.55 906.04,464.34 906.77,464.07 907.5,463.74 908.24,463.38 908.97,462.96 909.7,462.51 910.43,462.02 911.17,461.5 911.9,460.94 912.63,460.35 913.37,459.73 914.1,459.08 914.83,458.41 915.56,457.72 916.3,457.01 917.03,456.27 917.76,455.52 918.5,454.75 919.23,453.97 919.96,453.17 920.69,452.35 921.43,451.53 922.16,450.7 922.89,449.85 923.63,449 924.36,448.13 925.09,447.27 925.82,446.39 926.56,445.51 927.29,444.62 928.02,443.73 928.76,442.83 929.49,441.94 930.22,441.03 930.95,440.13 931.69,439.22 932.42,438.32 933.15,437.41 933.89,436.5 934.62,435.59 935.35,434.68 936.08,433.78 936.82,432.87 937.55,431.96 938.28,431.06 939.02,430.16 939.75,429.25 940.48,428.36 941.21,427.46 941.95,426.56 942.68,425.67 943.41,424.79 944.15,423.9 944.88,423.02 945.61,422.14 946.34,421.26 947.08,420.39 947.81,419.52 948.54,418.66 951.11,415.67 953.67,412.73 956.24,409.84 958.8,407.01 961.37,404.24 963.93,401.52 966.5,398.87 969.06,396.27 971.63,393.73 974.19,391.24 976.76,388.82 979.32,386.45 981.89,384.13 984.45,381.87 987.02,379.66 989.58,377.5 992.15,375.39 994.71,373.33 997.28,371.31 999.84,369.34 1002.41,367.42 1004.97,365.54 1007.54,363.7 1010.1,361.9 1012.67,360.14 1015.23,358.42 1017.8,356.74 1020.36,355.09 1022.93,353.48 1025.49,351.9 1028.06,350.35 1030.62,348.83 1033.19,347.35 1035.75,345.89 1038.32,344.46 1040.88,343.06 1043.45,341.68 1046.01,340.33 1048.58,339 1051.14,337.7 1058.5,334.08 1065.85,330.63 1073.21,327.33 1080.56,324.16 1087.92,321.11 1095.27,318.17 1102.63,315.32 1109.99,312.55 1117.34,309.85 1124.7,307.21 1132.05,304.62 1139.41,302.08 1146.76,299.58 1154.12,297.1 1161.47,294.65 1168.83,292.22 1176.18,289.8 1183.54,287.38 1190.89,284.96 1198.25,282.54 1205.6,280.12 1212.96,277.68 1220.32,275.23 1227.67,272.76 1235.03,270.26 1242.38,267.74 1249.74,265.2 1257.09,262.62 1264.45,260.01 1271.8,257.37 1279.16,254.69 1286.51,251.97 1293.87,249.2 1301.22,246.4 1308.58,243.55 1315.93,240.65 1323.29,237.7 1330.65,234.71 1338,231.66 1345.36,228.56" stroke="#EB6235" stroke-dasharray="7.6 6.2" stroke-dashoffset="-3"/>
<polyline points="865.27,32 865.27,35 865.36,40.28 865.73,59.18 866.1,77 866.46,93.84 866.83,109.78 867.2,124.9 867.56,139.26 867.93,152.94 868.3,165.96 868.66,178.4 869.03,190.27 869.39,201.63 869.76,212.5 870.13,222.91 870.49,232.9 870.86,242.47 871.23,251.67 871.59,260.5 871.96,268.98 872.33,277.14 872.69,284.98 873.06,292.52 873.43,299.78 873.79,306.77 874.16,313.5 874.52,319.97 874.89,326.2 875.26,332.21 875.62,337.99 875.99,343.56 876.36,348.92 876.72,354.09 877.09,359.07 877.46,363.86 877.82,368.48 878.19,372.93 878.55,377.21 878.92,381.33 879.29,385.3 879.65,389.13 880.02,392.81 880.39,396.35 880.75,399.76 881.12,403.05 881.49,406.2 881.85,409.24 882.22,412.16 882.59,414.97 882.95,417.68 883.32,420.27 883.68,422.77 884.05,425.17 884.42,427.47 884.78,429.68 885.15,431.8 885.52,433.84 885.88,435.79 886.25,437.66 886.62,439.46 886.98,441.18 887.35,442.83 887.72,444.41 888.08,445.92 888.45,447.36 888.81,448.74 889.18,450.06 889.55,451.32 889.91,452.52 890.65,454.76 891.38,456.78 892.11,458.61 892.85,460.26 893.58,461.74 894.31,463.05 895.04,464.22 895.78,465.24 896.51,466.13 897.24,466.89 897.98,467.54 898.71,468.08 899.44,468.52 900.17,468.86 900.91,469.12 901.64,469.29 902.37,469.38 903.11,469.4 903.84,469.34 904.57,469.23 905.3,469.05 906.04,468.82 906.77,468.54 907.5,468.2 908.24,467.82 908.97,467.4 909.7,466.94 910.43,466.44 911.17,465.9 911.9,465.33 912.63,464.73 913.37,464.11 914.1,463.46 914.83,462.78 915.56,462.08 916.3,461.36 917.03,460.62 917.76,459.86 918.5,459.09 919.23,458.3 919.96,457.5 920.69,456.68 921.43,455.86 922.16,455.02 922.89,454.17 923.63,453.31 924.36,452.45 925.09,451.58 925.82,450.7 926.56,449.81 927.29,448.92 928.02,448.03 928.76,447.13 929.49,446.23 930.22,445.33 930.95,444.42 931.69,443.52 932.42,442.61 933.15,441.7 933.89,440.79 934.62,439.88 935.35,438.97 936.08,438.06 936.82,437.15 937.55,436.24 938.28,435.34 939.02,434.43 939.75,433.53 940.48,432.63 941.21,431.73 941.95,430.84 942.68,429.95 943.41,429.06 944.15,428.17 944.88,427.29 945.61,426.41 946.34,425.53 947.08,424.66 947.81,423.79 948.54,422.92 951.11,419.92 953.67,416.98 956.24,414.08 958.8,411.25 961.37,408.47 963.93,405.74 966.5,403.08 969.06,400.47 971.63,397.92 974.19,395.43 976.76,392.99 979.32,390.61 981.89,388.28 984.45,386.01 987.02,383.79 989.58,381.62 992.15,379.5 994.71,377.42 997.28,375.4 999.84,373.42 1002.41,371.48 1004.97,369.59 1007.54,367.74 1010.1,365.93 1012.67,364.16 1015.23,362.43 1017.8,360.74 1020.36,359.08 1022.93,357.45 1025.49,355.86 1028.06,354.3 1030.62,352.78 1033.19,351.28 1035.75,349.81 1038.32,348.37 1040.88,346.96 1043.45,345.57 1046.01,344.21 1048.58,342.88 1051.14,341.56 1058.5,337.92 1065.85,334.45 1073.21,331.13 1080.56,327.95 1087.92,324.88 1095.27,321.92 1102.63,319.06 1109.99,316.28 1117.34,313.57 1124.7,310.92 1132.05,308.33 1139.41,305.79 1146.76,303.28 1154.12,300.8 1161.47,298.34 1168.83,295.91 1176.18,293.48 1183.54,291.06 1190.89,288.65 1198.25,286.23 1205.6,283.8 1212.96,281.36 1220.32,278.91 1227.67,276.43 1235.03,273.94 1242.38,271.42 1249.74,268.87 1257.09,266.29 1264.45,263.68 1271.8,261.03 1279.16,258.34 1286.51,255.61 1293.87,252.84 1301.22,250.03 1308.58,247.17 1315.93,244.26 1323.29,241.3 1330.65,238.29 1338,235.23 1345.36,232.11" stroke="#8778B3"/>
<polyline points="865.13,32 865.13,35 865.36,47.52 865.73,66.35 866.1,84.11 866.46,100.89 866.83,116.78 867.2,131.85 867.56,146.17 867.93,159.8 868.3,172.79 868.66,185.19 869.03,197.03 869.39,208.35 869.76,219.19 870.13,229.57 870.49,239.52 870.86,249.07 871.23,258.23 871.59,267.03 871.96,275.48 872.33,283.61 872.69,291.42 873.06,298.93 873.43,306.16 873.79,313.12 874.16,319.81 874.52,326.26 874.89,332.46 875.26,338.43 875.62,344.18 875.99,349.72 876.36,355.05 876.72,360.19 877.09,365.13 877.46,369.9 877.82,374.48 878.19,378.9 878.55,383.15 878.92,387.24 879.29,391.18 879.65,394.97 880.02,398.62 880.39,402.13 880.75,405.51 881.12,408.77 881.49,411.89 881.85,414.9 882.22,417.79 882.59,420.57 882.95,423.24 883.32,425.81 883.68,428.28 884.05,430.65 884.42,432.92 884.78,435.1 885.15,437.2 885.52,439.21 885.88,441.14 886.25,442.98 886.62,444.75 886.98,446.45 887.35,448.07 887.72,449.62 888.08,451.11 888.45,452.53 888.81,453.89 889.18,455.18 889.55,456.42 889.91,457.6 890.65,459.79 891.38,461.78 892.11,463.57 892.85,465.18 893.58,466.62 894.31,467.9 895.04,469.03 895.78,470.02 896.51,470.88 897.24,471.62 897.98,472.24 898.71,472.76 899.44,473.17 900.17,473.49 900.91,473.72 901.64,473.87 902.37,473.94 903.11,473.94 903.84,473.87 904.57,473.74 905.3,473.55 906.04,473.3 906.77,473.01 907.5,472.66 908.24,472.27 908.97,471.83 909.7,471.36 910.43,470.85 911.17,470.31 911.9,469.73 912.63,469.12 913.37,468.49 914.1,467.83 914.83,467.15 915.56,466.44 916.3,465.72 917.03,464.97 917.76,464.21 918.5,463.43 919.23,462.64 919.96,461.83 920.69,461.01 921.43,460.18 922.16,459.34 922.89,458.49 923.63,457.63 924.36,456.76 925.09,455.89 925.82,455 926.56,454.12 927.29,453.23 928.02,452.33 928.76,451.43 929.49,450.53 930.22,449.63 930.95,448.72 931.69,447.81 932.42,446.9 933.15,445.99 933.89,445.08 934.62,444.17 935.35,443.25 936.08,442.34 936.82,441.43 937.55,440.53 938.28,439.62 939.02,438.71 939.75,437.81 940.48,436.91 941.21,436.01 941.95,435.11 942.68,434.22 943.41,433.33 944.15,432.44 944.88,431.55 945.61,430.67 946.34,429.79 947.08,428.92 947.81,428.05 948.54,427.18 951.11,424.18 953.67,421.23 956.24,418.33 958.8,415.48 961.37,412.69 963.93,409.96 966.5,407.29 969.06,404.67 971.63,402.11 974.19,399.61 976.76,397.16 979.32,394.77 981.89,392.44 984.45,390.15 987.02,387.92 989.58,385.74 992.15,383.61 994.71,381.52 997.28,379.48 999.84,377.49 1002.41,375.55 1004.97,373.64 1007.54,371.78 1010.1,369.96 1012.67,368.18 1015.23,366.44 1017.8,364.73 1020.36,363.06 1022.93,361.43 1025.49,359.82 1028.06,358.26 1030.62,356.72 1033.19,355.21 1035.75,353.73 1038.32,352.28 1040.88,350.86 1043.45,349.47 1046.01,348.1 1048.58,346.75 1051.14,345.43 1058.5,341.77 1065.85,338.27 1073.21,334.93 1080.56,331.73 1087.92,328.65 1095.27,325.68 1102.63,322.8 1109.99,320.01 1117.34,317.29 1124.7,314.64 1132.05,312.04 1139.41,309.49 1146.76,306.97 1154.12,304.49 1161.47,302.03 1168.83,299.59 1176.18,297.17 1183.54,294.75 1190.89,292.33 1198.25,289.91 1205.6,287.48 1212.96,285.04 1220.32,282.59 1227.67,280.11 1235.03,277.61 1242.38,275.09 1249.74,272.54 1257.09,269.96 1264.45,267.34 1271.8,264.69 1279.16,261.99 1286.51,259.26 1293.87,256.48 1301.22,253.66 1308.58,250.79 1315.93,247.87 1323.29,244.9 1330.65,241.87 1338,238.79 1345.36,235.66" stroke="#C56E1A" stroke-dasharray="7.6 6.2" stroke-dashoffset="-3"/>
<polyline points="865,32 865,35 865.36,54.77 865.73,73.53 866.1,91.22 866.46,107.94 866.83,123.78 867.2,138.8 867.56,153.08 867.93,166.67 868.3,179.62 868.66,191.98 869.03,203.78 869.39,215.07 869.76,225.87 870.13,236.22 870.49,246.14 870.86,255.66 871.23,264.79 871.59,273.56 871.96,281.98 872.33,290.08 872.69,297.86 873.06,305.34 873.43,312.54 873.79,319.47 874.16,326.13 874.52,332.54 874.89,338.72 875.26,344.66 875.62,350.38 875.99,355.88 876.36,361.18 876.72,366.29 877.09,371.2 877.46,375.93 877.82,380.48 878.19,384.87 878.55,389.09 878.92,393.15 879.29,397.06 879.65,400.82 880.02,404.43 880.39,407.92 880.75,411.26 881.12,414.48 881.49,417.58 881.85,420.56 882.22,423.42 882.59,426.17 882.95,428.81 883.32,431.35 883.68,433.79 884.05,436.13 884.42,438.37 884.78,440.53 885.15,442.6 885.52,444.58 885.88,446.48 886.25,448.3 886.62,450.04 886.98,451.71 887.35,453.31 887.72,454.84 888.08,456.3 888.45,457.7 888.81,459.03 889.18,460.3 889.55,461.52 889.91,462.67 890.65,464.83 891.38,466.77 892.11,468.52 892.85,470.1 893.58,471.5 894.31,472.75 895.04,473.84 895.78,474.8 896.51,475.63 897.24,476.34 897.98,476.94 898.71,477.43 899.44,477.82 900.17,478.12 900.91,478.33 901.64,478.45 902.37,478.51 903.11,478.49 903.84,478.4 904.57,478.25 905.3,478.05 906.04,477.79 906.77,477.48 907.5,477.12 908.24,476.71 908.97,476.27 909.7,475.78 910.43,475.26 911.17,474.71 911.9,474.13 912.63,473.51 913.37,472.87 914.1,472.2 914.83,471.51 915.56,470.8 916.3,470.07 917.03,469.32 917.76,468.55 918.5,467.77 919.23,466.97 919.96,466.16 920.69,465.34 921.43,464.5 922.16,463.66 922.89,462.81 923.63,461.94 924.36,461.07 925.09,460.2 925.82,459.31 926.56,458.42 927.29,457.53 928.02,456.63 928.76,455.73 929.49,454.83 930.22,453.92 930.95,453.01 931.69,452.1 932.42,451.19 933.15,450.28 933.89,449.37 934.62,448.45 935.35,447.54 936.08,446.63 936.82,445.72 937.55,444.81 938.28,443.9 939.02,442.99 939.75,442.09 940.48,441.18 941.21,440.28 941.95,439.39 942.68,438.49 943.41,437.6 944.15,436.71 944.88,435.82 945.61,434.94 946.34,434.06 947.08,433.18 947.81,432.31 948.54,431.44 951.11,428.43 953.67,425.48 956.24,422.57 958.8,419.72 961.37,416.92 963.93,414.18 966.5,411.5 969.06,408.88 971.63,406.31 974.19,403.79 976.76,401.34 979.32,398.94 981.89,396.59 984.45,394.29 987.02,392.05 989.58,389.86 992.15,387.71 994.71,385.62 997.28,383.57 999.84,381.57 1002.41,379.61 1004.97,377.7 1007.54,375.82 1010.1,373.99 1012.67,372.2 1015.23,370.44 1017.8,368.73 1020.36,367.05 1022.93,365.4 1025.49,363.79 1028.06,362.21 1030.62,360.66 1033.19,359.14 1035.75,357.65 1038.32,356.2 1040.88,354.76 1043.45,353.36 1046.01,351.98 1048.58,350.63 1051.14,349.3 1058.5,345.61 1065.85,342.1 1073.21,338.74 1080.56,335.51 1087.92,332.42 1095.27,329.43 1102.63,326.54 1109.99,323.74 1117.34,321.01 1124.7,318.35 1132.05,315.75 1139.41,313.19 1146.76,310.67 1154.12,308.18 1161.47,305.72 1168.83,303.28 1176.18,300.85 1183.54,298.43 1190.89,296.01 1198.25,293.59 1205.6,291.16 1212.96,288.72 1220.32,286.26 1227.67,283.79 1235.03,281.29 1242.38,278.77 1249.74,276.21 1257.09,273.63 1264.45,271.01 1271.8,268.35 1279.16,265.65 1286.51,262.91 1293.87,260.12 1301.22,257.29 1308.58,254.41 1315.93,251.48 1323.29,248.49 1330.65,245.45 1338,242.36 1345.36,239.21" stroke="#5D9EC7"/>
<polyline points="864.87,32 864.87,35 865,42.14 865.36,62.01 865.73,80.7 866.1,98.33 866.46,115 866.83,130.78 867.2,145.76 867.56,159.99 867.93,173.54 868.3,186.45 868.66,198.77 869.03,210.54 869.39,221.79 869.76,232.56 870.13,242.88 870.49,252.77 870.86,262.25 871.23,271.35 871.59,280.09 871.96,288.49 872.33,296.55 872.69,304.3 873.06,311.76 873.43,318.92 873.79,325.82 874.16,332.45 874.52,338.83 874.89,344.97 875.26,350.88 875.62,356.57 875.99,362.04 876.36,367.31 876.72,372.39 877.09,377.27 877.46,381.97 877.82,386.49 878.19,390.84 878.55,395.03 878.92,399.05 879.29,402.93 879.65,406.66 880.02,410.25 880.39,413.7 880.75,417.01 881.12,420.2 881.49,423.27 881.85,426.22 882.22,429.05 882.59,431.77 882.95,434.38 883.32,436.89 883.68,439.3 884.05,441.61 884.42,443.83 884.78,445.95 885.15,447.99 885.52,449.95 885.88,451.82 886.25,453.62 886.62,455.34 886.98,456.98 887.35,458.55 887.72,460.06 888.08,461.49 888.45,462.87 888.81,464.18 889.18,465.43 889.55,466.62 889.91,467.75 890.65,469.86 891.38,471.76 892.11,473.48 892.85,475.01 893.58,476.38 894.31,477.59 895.04,478.66 895.78,479.59 896.51,480.39 897.24,481.07 897.98,481.64 898.71,482.1 899.44,482.47 900.17,482.74 900.91,482.93 901.64,483.04 902.37,483.07 903.11,483.03 903.84,482.93 904.57,482.77 905.3,482.55 906.04,482.27 906.77,481.95 907.5,481.57 908.24,481.16 908.97,480.7 909.7,480.21 910.43,479.68 911.17,479.12 911.9,478.52 912.63,477.9 913.37,477.25 914.1,476.58 914.83,475.88 915.56,475.16 916.3,474.43 917.03,473.67 917.76,472.9 918.5,472.11 919.23,471.31 919.96,470.49 920.69,469.67 921.43,468.83 922.16,467.98 922.89,467.12 923.63,466.26 924.36,465.39 925.09,464.51 925.82,463.62 926.56,462.73 927.29,461.83 928.02,460.93 928.76,460.03 929.49,459.13 930.22,458.22 930.95,457.31 931.69,456.39 932.42,455.48 933.15,454.57 933.89,453.65 934.62,452.74 935.35,451.83 936.08,450.91 936.82,450 937.55,449.09 938.28,448.18 939.02,447.27 939.75,446.36 940.48,445.46 941.21,444.56 941.95,443.66 942.68,442.76 943.41,441.87 944.15,440.98 944.88,440.09 945.61,439.21 946.34,438.33 947.08,437.45 947.81,436.57 948.54,435.7 951.11,432.69 953.67,429.72 956.24,426.81 958.8,423.95 961.37,421.15 963.93,418.4 966.5,415.71 969.06,413.08 971.63,410.5 974.19,407.98 976.76,405.51 979.32,403.1 981.89,400.74 984.45,398.44 987.02,396.18 989.58,393.98 992.15,391.82 994.71,389.72 997.28,387.66 999.84,385.64 1002.41,383.67 1004.97,381.75 1007.54,379.86 1010.1,378.02 1012.67,376.22 1015.23,374.45 1017.8,372.72 1020.36,371.03 1022.93,369.37 1025.49,367.75 1028.06,366.16 1030.62,364.6 1033.19,363.07 1035.75,361.58 1038.32,360.11 1040.88,358.67 1043.45,357.25 1046.01,355.87 1048.58,354.5 1051.14,353.16 1058.5,349.45 1065.85,345.92 1073.21,342.54 1080.56,339.3 1087.92,336.19 1095.27,333.19 1102.63,330.29 1109.99,327.47 1117.34,324.74 1124.7,322.07 1132.05,319.45 1139.41,316.89 1146.76,314.37 1154.12,311.88 1161.47,309.41 1168.83,306.97 1176.18,304.54 1183.54,302.12 1190.89,299.7 1198.25,297.27 1205.6,294.84 1212.96,292.4 1220.32,289.94 1227.67,287.47 1235.03,284.97 1242.38,282.44 1249.74,279.88 1257.09,277.29 1264.45,274.67 1271.8,272.01 1279.16,269.3 1286.51,266.55 1293.87,263.76 1301.22,260.92 1308.58,258.03 1315.93,255.09 1323.29,252.09 1330.65,249.04 1338,245.93 1345.36,242.76" stroke="#FFBF00" stroke-dasharray="7.6 6.2" stroke-dashoffset="-3"/>
<polyline points="864.75,32 864.75,35 865,49.46 865.36,69.25 865.73,87.88 866.1,105.44 866.46,122.05 866.83,137.78 867.2,152.71 867.56,166.9 867.93,180.4 868.3,193.27 868.66,205.56 869.03,217.29 869.39,228.51 869.76,239.25 870.13,249.53 870.49,259.39 870.86,268.84 871.23,277.92 871.59,286.62 871.96,294.99 872.33,303.02 872.69,310.74 873.06,318.17 873.43,325.3 873.79,332.17 874.16,338.77 874.52,345.12 874.89,351.23 875.26,357.11 875.62,362.76 875.99,368.21 876.36,373.44 876.72,378.48 877.09,383.33 877.46,388 877.82,392.49 878.19,396.81 878.55,400.96 878.92,404.96 879.29,408.81 879.65,412.5 880.02,416.06 880.39,419.48 880.75,422.76 881.12,425.92 881.49,428.96 881.85,431.87 882.22,434.67 882.59,437.36 882.95,439.95 883.32,442.43 883.68,444.81 884.05,447.09 884.42,449.28 884.78,451.38 885.15,453.39 885.52,455.32 885.88,457.17 886.25,458.93 886.62,460.63 886.98,462.25 887.35,463.79 887.72,465.27 888.08,466.69 888.45,468.03 888.81,469.32 889.18,470.55 889.55,471.72 889.91,472.83 890.65,474.9 891.38,476.76 892.11,478.43 892.85,479.93 893.58,481.26 894.31,482.44 895.04,483.47 895.78,484.37 896.51,485.14 897.24,485.79 897.98,486.34 898.71,486.77 899.44,487.12 900.17,487.37 900.91,487.53 901.64,487.62 902.37,487.64 903.11,487.58 903.84,487.46 904.57,487.28 905.3,487.04 906.04,486.75 906.77,486.42 907.5,486.03 908.24,485.6 908.97,485.14 909.7,484.63 910.43,484.09 911.17,483.52 911.9,482.92 912.63,482.29 913.37,481.63 914.1,480.95 914.83,480.25 915.56,479.52 916.3,478.78 917.03,478.02 917.76,477.24 918.5,476.45 919.23,475.65 919.96,474.83 920.69,474 921.43,473.15 922.16,472.3 922.89,471.44 923.63,470.57 924.36,469.7 925.09,468.82 925.82,467.93 926.56,467.03 927.29,466.14 928.02,465.24 928.76,464.33 929.49,463.42 930.22,462.51 930.95,461.6 931.69,460.69 932.42,459.77 933.15,458.86 933.89,457.94 934.62,457.03 935.35,456.11 936.08,455.2 936.82,454.28 937.55,453.37 938.28,452.46 939.02,451.55 939.75,450.64 940.48,449.74 941.21,448.83 941.95,447.93 942.68,447.04 943.41,446.14 944.15,445.25 944.88,444.36 945.61,443.47 946.34,442.59 947.08,441.71 947.81,440.84 948.54,439.96 951.11,436.94 953.67,433.97 956.24,431.05 958.8,428.19 961.37,425.38 963.93,422.62 966.5,419.92 969.06,417.28 971.63,414.69 974.19,412.16 976.76,409.69 979.32,407.26 981.89,404.89 984.45,402.58 987.02,400.31 989.58,398.1 992.15,395.93 994.71,393.81 997.28,391.74 999.84,389.72 1002.41,387.74 1004.97,385.8 1007.54,383.9 1010.1,382.05 1012.67,380.23 1015.23,378.46 1017.8,376.72 1020.36,375.01 1022.93,373.35 1025.49,371.71 1028.06,370.11 1030.62,368.54 1033.19,367.01 1035.75,365.5 1038.32,364.02 1040.88,362.57 1043.45,361.15 1046.01,359.75 1048.58,358.38 1051.14,357.03 1058.5,353.3 1065.85,349.74 1073.21,346.34 1080.56,343.08 1087.92,339.96 1095.27,336.94 1102.63,334.03 1109.99,331.2 1117.34,328.46 1124.7,325.78 1132.05,323.16 1139.41,320.59 1146.76,318.07 1154.12,315.57 1161.47,313.11 1168.83,310.66 1176.18,308.23 1183.54,305.8 1190.89,303.38 1198.25,300.96 1205.6,298.53 1212.96,296.08 1220.32,293.62 1227.67,291.15 1235.03,288.64 1242.38,286.11 1249.74,283.55 1257.09,280.96 1264.45,278.33 1271.8,275.66 1279.16,272.95 1286.51,270.2 1293.87,267.4 1301.22,264.55 1308.58,261.65 1315.93,258.69 1323.29,255.69 1330.65,252.62 1338,249.5 1345.36,246.31" stroke="#A5609D"/>
<polyline points="864.62,32 864.62,35 864.63,35.79 865,56.78 865.36,76.5 865.73,95.05 866.1,112.56 866.46,129.11 866.83,144.79 867.2,159.66 867.56,173.81 867.93,187.27 868.3,200.1 868.66,212.35 869.03,224.05 869.39,235.23 869.76,245.94 870.13,256.19 870.49,266.02 870.86,275.44 871.23,284.48 871.59,293.16 871.96,301.49 872.33,309.49 872.69,317.18 873.06,324.58 873.43,331.68 873.79,338.51 874.16,345.09 874.52,351.41 874.89,357.48 875.26,363.33 875.62,368.96 875.99,374.37 876.36,379.57 876.72,384.58 877.09,389.4 877.46,394.03 877.82,398.49 878.19,402.78 878.55,406.9 878.92,410.87 879.29,414.68 879.65,418.35 880.02,421.87 880.39,425.26 880.75,428.51 881.12,431.64 881.49,434.65 881.85,437.53 882.22,440.3 882.59,442.96 882.95,445.52 883.32,447.97 883.68,450.32 884.05,452.57 884.42,454.73 884.78,456.8 885.15,458.79 885.52,460.69 885.88,462.51 886.25,464.25 886.62,465.92 886.98,467.51 887.35,469.03 887.72,470.49 888.08,471.88 888.45,473.2 888.81,474.47 889.18,475.67 889.55,476.82 889.91,477.91 890.65,479.93 891.38,481.75 892.11,483.39 892.85,484.85 893.58,486.14 894.31,487.29 895.04,488.29 895.78,489.15 896.51,489.89 897.24,490.52 897.98,491.03 898.71,491.45 899.44,491.76 900.17,491.99 900.91,492.14 901.64,492.21 902.37,492.2 903.11,492.13 903.84,491.99 904.57,491.79 905.3,491.54 906.04,491.24 906.77,490.89 907.5,490.49 908.24,490.05 908.97,489.57 909.7,489.06 910.43,488.51 911.17,487.93 911.9,487.31 912.63,486.68 913.37,486.01 914.1,485.33 914.83,484.62 915.56,483.89 916.3,483.14 917.03,482.37 917.76,481.59 918.5,480.79 919.23,479.98 919.96,479.16 920.69,478.32 921.43,477.48 922.16,476.62 922.89,475.76 923.63,474.89 924.36,474.01 925.09,473.13 925.82,472.24 926.56,471.34 927.29,470.44 928.02,469.54 928.76,468.63 929.49,467.72 930.22,466.81 930.95,465.89 931.69,464.98 932.42,464.06 933.15,463.15 933.89,462.23 934.62,461.31 935.35,460.4 936.08,459.48 936.82,458.57 937.55,457.65 938.28,456.74 939.02,455.83 939.75,454.92 940.48,454.01 941.21,453.11 941.95,452.21 942.68,451.31 943.41,450.41 944.15,449.52 944.88,448.63 945.61,447.74 946.34,446.86 947.08,445.98 947.81,445.1 948.54,444.23 951.11,441.2 953.67,438.22 956.24,435.3 958.8,432.42 961.37,429.61 963.93,426.84 966.5,424.13 969.06,421.48 971.63,418.89 974.19,416.35 976.76,413.86 979.32,411.43 981.89,409.05 984.45,406.72 987.02,404.44 989.58,402.22 992.15,400.04 994.71,397.91 997.28,395.83 999.84,393.79 1002.41,391.8 1004.97,389.85 1007.54,387.94 1010.1,386.08 1012.67,384.25 1015.23,382.46 1017.8,380.71 1020.36,379 1022.93,377.32 1025.49,375.68 1028.06,374.07 1030.62,372.49 1033.19,370.94 1035.75,369.42 1038.32,367.93 1040.88,366.47 1043.45,365.04 1046.01,363.63 1048.58,362.25 1051.14,360.9 1058.5,357.14 1065.85,353.56 1073.21,350.14 1080.56,346.87 1087.92,343.72 1095.27,340.7 1102.63,337.77 1109.99,334.93 1117.34,332.18 1124.7,329.49 1132.05,326.87 1139.41,324.29 1146.76,321.76 1154.12,319.27 1161.47,316.8 1168.83,314.35 1176.18,311.91 1183.54,309.49 1190.89,307.06 1198.25,304.64 1205.6,302.21 1212.96,299.76 1220.32,297.3 1227.67,294.82 1235.03,292.32 1242.38,289.79 1249.74,287.23 1257.09,284.63 1264.45,282 1271.8,279.32 1279.16,276.61 1286.51,273.85 1293.87,271.04 1301.22,268.18 1308.58,265.27 1315.93,262.3 1323.29,259.28 1330.65,256.2 1338,253.07 1345.36,249.87" stroke="#929600" stroke-dasharray="7.6 6.2" stroke-dashoffset="-3"/>
<polyline points="864.5,32 864.5,35 864.63,43.19 865,64.1 865.36,83.74 865.73,102.22 866.1,119.67 866.46,136.16 866.83,151.79 867.2,166.62 867.56,180.72 867.93,194.14 868.3,206.93 868.66,219.14 869.03,230.8 869.39,241.95 869.76,252.62 870.13,262.85 870.49,272.64 870.86,282.03 871.23,291.04 871.59,299.69 871.96,307.99 872.33,315.96 872.69,323.62 873.06,330.99 873.43,338.06 873.79,344.86 874.16,351.4 874.52,357.69 874.89,363.74 875.26,369.56 875.62,375.15 875.99,380.53 876.36,385.7 876.72,390.68 877.09,395.47 877.46,400.07 877.82,404.49 878.19,408.75 878.55,412.84 878.92,416.78 879.29,420.56 879.65,424.19 880.02,427.68 880.39,431.04 880.75,434.26 881.12,437.36 881.49,440.33 881.85,443.19 882.22,445.93 882.59,448.56 882.95,451.08 883.32,453.51 883.68,455.83 884.05,458.05 884.42,460.19 884.78,462.23 885.15,464.19 885.52,466.06 885.88,467.85 886.25,469.57 886.62,471.21 886.98,472.78 887.35,474.27 887.72,475.7 888.08,477.07 888.45,478.37 888.81,479.61 889.18,480.79 889.55,481.92 889.91,482.98 890.65,484.96 891.38,486.75 892.11,488.34 892.85,489.76 893.58,491.02 894.31,492.13 895.04,493.1 895.78,493.93 896.51,494.65 897.24,495.24 897.98,495.73 898.71,496.12 899.44,496.41 900.17,496.62 900.91,496.74 901.64,496.79 902.37,496.77 903.11,496.67 903.84,496.52 904.57,496.31 905.3,496.04 906.04,495.72 906.77,495.36 907.5,494.95 908.24,494.5 908.97,494.01 909.7,493.48 910.43,492.92 911.17,492.33 911.9,491.71 912.63,491.06 913.37,490.39 914.1,489.7 914.83,488.98 915.56,488.25 916.3,487.49 917.03,486.72 917.76,485.93 918.5,485.13 919.23,484.32 919.96,483.49 920.69,482.65 921.43,481.8 922.16,480.94 922.89,480.08 923.63,479.2 924.36,478.32 925.09,477.44 925.82,476.54 926.56,475.65 927.29,474.74 928.02,473.84 928.76,472.93 929.49,472.02 930.22,471.1 930.95,470.19 931.69,469.27 932.42,468.35 933.15,467.44 933.89,466.52 934.62,465.6 935.35,464.68 936.08,463.76 936.82,462.85 937.55,461.93 938.28,461.02 939.02,460.11 939.75,459.2 940.48,458.29 941.21,457.38 941.95,456.48 942.68,455.58 943.41,454.68 944.15,453.79 944.88,452.9 945.61,452.01 946.34,451.12 947.08,450.24 947.81,449.36 948.54,448.49 951.11,445.45 953.67,442.47 956.24,439.54 958.8,436.66 961.37,433.83 963.93,431.06 966.5,428.35 969.06,425.69 971.63,423.08 974.19,420.53 976.76,418.03 979.32,415.59 981.89,413.2 984.45,410.86 987.02,408.58 989.58,406.34 992.15,404.15 994.71,402.01 997.28,399.92 999.84,397.87 1002.41,395.86 1004.97,393.9 1007.54,391.98 1010.1,390.11 1012.67,388.27 1015.23,386.47 1017.8,384.71 1020.36,382.98 1022.93,381.29 1025.49,379.64 1028.06,378.02 1030.62,376.43 1033.19,374.87 1035.75,373.34 1038.32,371.85 1040.88,370.38 1043.45,368.93 1046.01,367.52 1048.58,366.13 1051.14,364.77 1058.5,360.98 1065.85,357.38 1073.21,353.94 1080.56,350.65 1087.92,347.49 1095.27,344.45 1102.63,341.51 1109.99,338.67 1117.34,335.9 1124.7,333.21 1132.05,330.58 1139.41,328 1146.76,325.46 1154.12,322.96 1161.47,320.49 1168.83,318.04 1176.18,315.6 1183.54,313.17 1190.89,310.75 1198.25,308.32 1205.6,305.89 1212.96,303.44 1220.32,300.98 1227.67,298.5 1235.03,296 1242.38,293.46 1249.74,290.9 1257.09,288.3 1264.45,285.66 1271.8,282.98 1279.16,280.26 1286.51,277.49 1293.87,274.68 1301.22,271.81 1308.58,268.89 1315.93,265.91 1323.29,262.88 1330.65,259.79 1338,256.63 1345.36,253.42" stroke="#E95536"/>
<polyline points="864.37,32 864.37,35 864.63,50.59 865,71.42 865.36,90.98 865.73,109.4 866.1,126.78 866.46,143.22 866.83,158.79 867.2,173.57 867.56,187.63 867.93,201 868.3,213.76 868.66,225.93 869.03,237.56 869.39,248.67 869.76,259.31 870.13,269.5 870.49,279.26 870.86,288.62 871.23,297.6 871.59,306.22 871.96,314.49 872.33,322.43 872.69,330.06 873.06,337.4 873.43,344.44 873.79,351.21 874.16,357.72 874.52,363.98 874.89,370 875.26,375.78 875.62,381.34 875.99,386.69 876.36,391.83 876.72,396.78 877.09,401.53 877.46,406.1 877.82,410.5 878.19,414.72 878.55,418.78 878.92,422.68 879.29,426.43 879.65,430.03 880.02,433.5 880.39,436.82 880.75,440.01 881.12,443.08 881.49,446.02 881.85,448.85 882.22,451.56 882.59,454.16 882.95,456.65 883.32,459.04 883.68,461.34 884.05,463.53 884.42,465.64 884.78,467.65 885.15,469.58 885.52,471.43 885.88,473.2 886.25,474.89 886.62,476.5 886.98,478.04 887.35,479.52 887.72,480.92 888.08,482.26 888.45,483.54 888.81,484.76 889.18,485.91 889.55,487.02 889.91,488.06 890.65,490 891.38,491.74 892.11,493.3 892.85,494.68 893.58,495.9 894.31,496.98 895.04,497.91 895.78,498.72 896.51,499.4 897.24,499.97 897.98,500.43 898.71,500.79 899.44,501.06 900.17,501.25 900.91,501.35 901.64,501.37 902.37,501.33 903.11,501.22 903.84,501.05 904.57,500.82 905.3,500.54 906.04,500.21 906.77,499.83 907.5,499.4 908.24,498.94 908.97,498.44 909.7,497.9 910.43,497.33 911.17,496.74 911.9,496.11 912.63,495.45 913.37,494.77 914.1,494.07 914.83,493.35 915.56,492.61 916.3,491.85 917.03,491.07 917.76,490.28 918.5,489.47 919.23,488.65 919.96,487.82 920.69,486.98 921.43,486.13 922.16,485.27 922.89,484.4 923.63,483.52 924.36,482.64 925.09,481.75 925.82,480.85 926.56,479.95 927.29,479.05 928.02,478.14 928.76,477.23 929.49,476.32 930.22,475.4 930.95,474.48 931.69,473.56 932.42,472.65 933.15,471.73 933.89,470.81 934.62,469.89 935.35,468.97 936.08,468.05 936.82,467.13 937.55,466.21 938.28,465.3 939.02,464.39 939.75,463.47 940.48,462.57 941.21,461.66 941.95,460.75 942.68,459.85 943.41,458.95 944.15,458.06 944.88,457.16 945.61,456.27 946.34,455.39 947.08,454.5 947.81,453.62 948.54,452.75 951.11,449.71 953.67,446.72 956.24,443.78 958.8,440.89 961.37,438.06 963.93,435.28 966.5,432.56 969.06,429.89 971.63,427.27 974.19,424.71 976.76,422.21 979.32,419.75 981.89,417.35 984.45,415.01 987.02,412.71 989.58,410.46 992.15,408.26 994.71,406.11 997.28,404 999.84,401.94 1002.41,399.93 1004.97,397.95 1007.54,396.02 1010.1,394.14 1012.67,392.29 1015.23,390.48 1017.8,388.7 1020.36,386.97 1022.93,385.27 1025.49,383.6 1028.06,381.97 1030.62,380.37 1033.19,378.8 1035.75,377.27 1038.32,375.76 1040.88,374.28 1043.45,372.83 1046.01,371.4 1048.58,370.01 1051.14,368.63 1058.5,364.83 1065.85,361.2 1073.21,357.75 1080.56,354.44 1087.92,351.26 1095.27,348.2 1102.63,345.25 1109.99,342.4 1117.34,339.62 1124.7,336.92 1132.05,334.28 1139.41,331.7 1146.76,329.16 1154.12,326.65 1161.47,324.18 1168.83,321.72 1176.18,319.29 1183.54,316.86 1190.89,314.43 1198.25,312 1205.6,309.57 1212.96,307.12 1220.32,304.66 1227.67,302.18 1235.03,299.67 1242.38,297.14 1249.74,294.57 1257.09,291.96 1264.45,289.32 1271.8,286.64 1279.16,283.91 1286.51,281.14 1293.87,278.31 1301.22,275.44 1308.58,272.51 1315.93,269.52 1323.29,266.48 1330.65,263.37 1338,260.2 1345.36,256.97" stroke="#6685D9" stroke-dasharray="7.6 6.2" stroke-dashoffset="-3"/>
<polyline points="864.25,32 864.25,35 864.26,35.86 864.63,58 865,78.74 865.36,98.22 865.73,116.57 866.1,133.89 866.46,150.27 866.83,165.79 867.2,180.53 867.56,194.53 867.93,207.87 868.3,220.59 868.66,232.72 869.03,244.31 869.39,255.39 869.76,266 870.13,276.16 870.49,285.89 870.86,295.22 871.23,304.16 871.59,312.75 871.96,320.99 872.33,328.9 872.69,336.51 873.06,343.81 873.43,350.82 873.79,357.56 874.16,364.04 874.52,370.27 874.89,376.25 875.26,382.01 875.62,387.54 875.99,392.85 876.36,397.96 876.72,402.88 877.09,407.6 877.46,412.14 877.82,416.5 878.19,420.69 878.55,424.72 878.92,428.59 879.29,432.31 879.65,435.88 880.02,439.31 880.39,442.6 880.75,445.76 881.12,448.8 881.49,451.71 881.85,454.5 882.22,457.18 882.59,459.76 882.95,462.22 883.32,464.58 883.68,466.85 884.05,469.01 884.42,471.09 884.78,473.08 885.15,474.98 885.52,476.8 885.88,478.54 886.25,480.2 886.62,481.79 886.98,483.31 887.35,484.76 887.72,486.14 888.08,487.45 888.45,488.71 888.81,489.9 889.18,491.04 889.55,492.11 889.91,493.14 890.65,495.03 891.38,496.73 892.11,498.25 892.85,499.6 893.58,500.79 894.31,501.83 895.04,502.73 895.78,503.5 896.51,504.15 897.24,504.69 897.98,505.13 898.71,505.46 899.44,505.71 900.17,505.87 900.91,505.95 901.64,505.96 902.37,505.89 903.11,505.77 903.84,505.58 904.57,505.33 905.3,505.04 906.04,504.69 906.77,504.3 907.5,503.86 908.24,503.39 908.97,502.87 909.7,502.33 910.43,501.75 911.17,501.14 911.9,500.5 912.63,499.84 913.37,499.15 914.1,498.45 914.83,497.72 915.56,496.97 916.3,496.2 917.03,495.42 917.76,494.62 918.5,493.81 919.23,492.99 919.96,492.15 920.69,491.31 921.43,490.45 922.16,489.59 922.89,488.71 923.63,487.83 924.36,486.95 925.09,486.06 925.82,485.16 926.56,484.26 927.29,483.35 928.02,482.44 928.76,481.53 929.49,480.61 930.22,479.7 930.95,478.78 931.69,477.86 932.42,476.94 933.15,476.02 933.89,475.09 934.62,474.17 935.35,473.25 936.08,472.33 936.82,471.41 937.55,470.5 938.28,469.58 939.02,468.66 939.75,467.75 940.48,466.84 941.21,465.93 941.95,465.03 942.68,464.12 943.41,463.22 944.15,462.33 944.88,461.43 945.61,460.54 946.34,459.65 947.08,458.77 947.81,457.89 948.54,457.01 951.11,453.96 953.67,450.97 956.24,448.02 958.8,445.13 961.37,442.29 963.93,439.5 966.5,436.77 969.06,434.09 971.63,431.47 974.19,428.9 976.76,426.38 979.32,423.92 981.89,421.51 984.45,419.15 987.02,416.84 989.58,414.58 992.15,412.37 994.71,410.2 997.28,408.09 999.84,406.02 1002.41,403.99 1004.97,402.01 1007.54,400.07 1010.1,398.16 1012.67,396.3 1015.23,394.48 1017.8,392.7 1020.36,390.95 1022.93,389.24 1025.49,387.57 1028.06,385.92 1030.62,384.31 1033.19,382.73 1035.75,381.19 1038.32,379.67 1040.88,378.18 1043.45,376.72 1046.01,375.29 1048.58,373.88 1051.14,372.5 1058.5,368.67 1065.85,365.03 1073.21,361.55 1080.56,358.22 1087.92,355.03 1095.27,351.96 1102.63,349 1109.99,346.13 1117.34,343.35 1124.7,340.64 1132.05,337.99 1139.41,335.4 1146.76,332.85 1154.12,330.35 1161.47,327.87 1168.83,325.41 1176.18,322.97 1183.54,320.54 1190.89,318.11 1198.25,315.69 1205.6,313.25 1212.96,310.8 1220.32,308.34 1227.67,305.86 1235.03,303.35 1242.38,300.81 1249.74,298.24 1257.09,295.63 1264.45,292.99 1271.8,290.3 1279.16,287.57 1286.51,284.78 1293.87,281.95 1301.22,279.07 1308.58,276.13 1315.93,273.13 1323.29,270.07 1330.65,266.95 1338,263.77 1345.36,260.52" stroke="#F89F13"/>
<polyline points="864.13,32 864.13,35 864.26,43.35 864.63,65.4 865,86.06 865.36,105.47 865.73,123.75 866.1,141 866.46,157.32 866.83,172.79 867.2,187.48 867.56,201.44 867.93,214.74 868.3,227.41 868.66,239.51 869.03,251.07 869.39,262.12 869.76,272.69 870.13,282.81 870.49,292.51 870.86,301.81 871.23,310.73 871.59,319.28 871.96,327.49 872.33,335.38 872.69,342.95 873.06,350.22 873.43,357.2 873.79,363.91 874.16,370.36 874.52,376.55 874.89,382.51 875.26,388.23 875.62,393.73 875.99,399.01 876.36,404.09 876.72,408.97 877.09,413.67 877.46,418.17 877.82,422.5 878.19,426.66 878.55,430.66 878.92,434.5 879.29,438.18 879.65,441.72 880.02,445.12 880.39,448.38 880.75,451.51 881.12,454.52 881.49,457.4 881.85,460.16 882.22,462.81 882.59,465.35 882.95,467.79 883.32,470.12 883.68,472.36 884.05,474.5 884.42,476.54 884.78,478.5 885.15,480.38 885.52,482.17 885.88,483.88 886.25,485.52 886.62,487.08 886.98,488.58 887.35,490 887.72,491.35 888.08,492.65 888.45,493.88 888.81,495.05 889.18,496.16 889.55,497.21 889.91,498.22 890.65,500.07 891.38,501.73 892.11,503.2 892.85,504.51 893.58,505.67 894.31,506.67 895.04,507.54 895.78,508.28 896.51,508.91 897.24,509.42 897.98,509.83 898.71,510.14 899.44,510.36 900.17,510.5 900.91,510.56 901.64,510.54 902.37,510.46 903.11,510.31 903.84,510.11 904.57,509.85 905.3,509.53 906.04,509.17 906.77,508.77 907.5,508.32 908.24,507.83 908.97,507.31 909.7,506.75 910.43,506.16 911.17,505.55 911.9,504.9 912.63,504.23 913.37,503.54 914.1,502.82 914.83,502.08 915.56,501.33 916.3,500.56 917.03,499.77 917.76,498.97 918.5,498.15 919.23,497.32 919.96,496.49 920.69,495.64 921.43,494.78 922.16,493.91 922.89,493.03 923.63,492.15 924.36,491.26 925.09,490.37 925.82,489.47 926.56,488.56 927.29,487.65 928.02,486.74 928.76,485.83 929.49,484.91 930.22,483.99 930.95,483.07 931.69,482.15 932.42,481.23 933.15,480.3 933.89,479.38 934.62,478.46 935.35,477.54 936.08,476.62 936.82,475.7 937.55,474.78 938.28,473.86 939.02,472.94 939.75,472.03 940.48,471.12 941.21,470.21 941.95,469.3 942.68,468.4 943.41,467.49 944.15,466.6 944.88,465.7 945.61,464.81 946.34,463.92 947.08,463.03 947.81,462.15 948.54,461.27 951.11,458.22 953.67,455.22 956.24,452.27 958.8,449.37 961.37,446.52 963.93,443.72 966.5,440.98 969.06,438.29 971.63,435.66 974.19,433.08 976.76,430.56 979.32,428.08 981.89,425.66 984.45,423.29 987.02,420.97 989.58,418.7 992.15,416.48 994.71,414.3 997.28,412.17 999.84,410.09 1002.41,408.05 1004.97,406.06 1007.54,404.11 1010.1,402.19 1012.67,400.32 1015.23,398.49 1017.8,396.7 1020.36,394.94 1022.93,393.22 1025.49,391.53 1028.06,389.88 1030.62,388.26 1033.19,386.67 1035.75,385.11 1038.32,383.58 1040.88,382.08 1043.45,380.61 1046.01,379.17 1048.58,377.76 1051.14,376.37 1058.5,372.51 1065.85,368.85 1073.21,365.35 1080.56,362.01 1087.92,358.8 1095.27,355.71 1102.63,352.74 1109.99,349.86 1117.34,347.07 1124.7,344.35 1132.05,341.7 1139.41,339.1 1146.76,336.55 1154.12,334.04 1161.47,331.56 1168.83,329.1 1176.18,326.66 1183.54,324.23 1190.89,321.8 1198.25,319.37 1205.6,316.93 1212.96,314.48 1220.32,312.02 1227.67,309.53 1235.03,307.02 1242.38,304.48 1249.74,301.91 1257.09,299.3 1264.45,296.65 1271.8,293.96 1279.16,291.22 1286.51,288.43 1293.87,285.59 1301.22,282.7 1308.58,279.75 1315.93,276.74 1323.29,273.67 1330.65,270.54 1338,267.34 1345.36,264.07" stroke="#BC5B80" stroke-dasharray="7.6 6.2" stroke-dashoffset="-3"/>
<polyline points="864.02,32 864.02,35 864.26,50.85 864.63,72.8 865,93.38 865.36,112.71 865.73,130.92 866.1,148.11 866.46,164.38 866.83,179.79 867.2,194.43 867.56,208.35 867.93,221.61 868.3,234.24 868.66,246.3 869.03,257.82 869.39,268.84 869.76,279.38 870.13,289.47 870.49,299.14 870.86,308.4 871.23,317.29 871.59,325.81 871.96,333.99 872.33,341.85 872.69,349.39 873.06,356.63 873.43,363.58 873.79,370.26 874.16,376.68 874.52,382.84 874.89,388.76 875.26,394.45 875.62,399.92 875.99,405.18 876.36,410.22 876.72,415.07 877.09,419.73 877.46,424.21 877.82,428.5 878.19,432.63 878.55,436.6 878.92,440.4 879.29,444.06 879.65,447.57 880.02,450.93 880.39,454.16 880.75,457.26 881.12,460.24 881.49,463.09 881.85,465.82 882.22,468.44 882.59,470.95 882.95,473.36 883.32,475.66 883.68,477.87 884.05,479.98 884.42,482 884.78,483.93 885.15,485.78 885.52,487.54 885.88,489.23 886.25,490.84 886.62,492.38 886.98,493.84 887.35,495.24 887.72,496.57 888.08,497.84 888.45,499.04 888.81,500.19 889.18,501.28 889.55,502.31 889.91,503.29 890.65,505.1 891.38,506.72 892.11,508.16 892.85,509.43 893.58,510.55 894.31,511.52 895.04,512.35 895.78,513.07 896.51,513.66 897.24,514.14 897.98,514.52 898.71,514.81 899.44,515.01 900.17,515.12 900.91,515.16 901.64,515.13 902.37,515.02 903.11,514.86 903.84,514.64 904.57,514.36 905.3,514.03 906.04,513.66 906.77,513.24 907.5,512.78 908.24,512.28 908.97,511.74 909.7,511.18 910.43,510.58 911.17,509.95 911.9,509.3 912.63,508.62 913.37,507.92 914.1,507.19 914.83,506.45 915.56,505.69 916.3,504.91 917.03,504.12 917.76,503.31 918.5,502.49 919.23,501.66 919.96,500.82 920.69,499.96 921.43,499.1 922.16,498.23 922.89,497.35 923.63,496.46 924.36,495.57 925.09,494.68 925.82,493.77 926.56,492.87 927.29,491.96 928.02,491.04 928.76,490.13 929.49,489.21 930.22,488.29 930.95,487.37 931.69,486.44 932.42,485.52 933.15,484.59 933.89,483.67 934.62,482.75 935.35,481.82 936.08,480.9 936.82,479.98 937.55,479.06 938.28,478.14 939.02,477.22 939.75,476.31 940.48,475.39 941.21,474.48 941.95,473.57 942.68,472.67 943.41,471.77 944.15,470.87 944.88,469.97 945.61,469.07 946.34,468.18 947.08,467.29 947.81,466.41 948.54,465.53 951.11,462.48 953.67,459.47 956.24,456.51 958.8,453.6 961.37,450.74 963.93,447.94 966.5,445.19 969.06,442.5 971.63,439.85 974.19,437.26 976.76,434.73 979.32,432.25 981.89,429.81 984.45,427.43 987.02,425.1 989.58,422.82 992.15,420.59 994.71,418.4 997.28,416.26 999.84,414.17 1002.41,412.12 1004.97,410.11 1007.54,408.15 1010.1,406.22 1012.67,404.34 1015.23,402.5 1017.8,400.69 1020.36,398.92 1022.93,397.19 1025.49,395.49 1028.06,393.83 1030.62,392.2 1033.19,390.6 1035.75,389.03 1038.32,387.49 1040.88,385.99 1043.45,384.51 1046.01,383.06 1048.58,381.63 1051.14,380.23 1058.5,376.36 1065.85,372.67 1073.21,369.15 1080.56,365.79 1087.92,362.57 1095.27,359.47 1102.63,356.48 1109.99,353.59 1117.34,350.79 1124.7,348.07 1132.05,345.41 1139.41,342.8 1146.76,340.25 1154.12,337.73 1161.47,335.25 1168.83,332.79 1176.18,330.34 1183.54,327.91 1190.89,325.48 1198.25,323.05 1205.6,320.61 1212.96,318.17 1220.32,315.7 1227.67,313.21 1235.03,310.7 1242.38,308.16 1249.74,305.58 1257.09,302.97 1264.45,300.31 1271.8,297.62 1279.16,294.87 1286.51,292.08 1293.87,289.23 1301.22,286.33 1308.58,283.37 1315.93,280.35 1323.29,277.27 1330.65,274.12 1338,270.91 1345.36,267.62" stroke="#47B66D"/>
<polyline points="863.9,32 863.9,35 864.26,58.35 864.63,80.21 865,100.7 865.36,119.95 865.73,138.09 866.1,155.22 866.46,171.43 866.83,186.8 867.2,201.39 867.56,215.26 867.93,228.47 868.3,241.07 868.66,253.09 869.03,264.58 869.39,275.56 869.76,286.06 870.13,296.12 870.49,305.76 870.86,315 871.23,323.85 871.59,332.35 871.96,340.5 872.33,348.32 872.69,355.83 873.06,363.04 873.43,369.96 873.79,376.61 874.16,382.99 874.52,389.13 874.89,395.02 875.26,400.68 875.62,406.12 875.99,411.34 876.36,416.35 876.72,421.17 877.09,425.8 877.46,430.24 877.82,434.51 878.19,438.6 878.55,442.54 878.92,446.31 879.29,449.93 879.65,453.41 880.02,456.74 880.39,459.94 880.75,463.01 881.12,465.95 881.49,468.77 881.85,471.48 882.22,474.07 882.59,476.55 882.95,478.92 883.32,481.2 883.68,483.38 884.05,485.46 884.42,487.45 884.78,489.35 885.15,491.17 885.52,492.91 885.88,494.57 886.25,496.16 886.62,497.67 886.98,499.11 887.35,500.48 887.72,501.79 888.08,503.03 888.45,504.21 888.81,505.34 889.18,506.4 889.55,507.41 889.91,508.37 890.65,510.14 891.38,511.71 892.11,513.11 892.85,514.35 893.58,515.43 894.31,516.37 895.04,517.17 895.78,517.85 896.51,518.41 897.24,518.87 897.98,519.22 898.71,519.48 899.44,519.66 900.17,519.75 900.91,519.76 901.64,519.71 902.37,519.59 903.11,519.41 903.84,519.17 904.57,518.87 905.3,518.53 906.04,518.14 906.77,517.71 907.5,517.23 908.24,516.72 908.97,516.18 909.7,515.6 910.43,514.99 911.17,514.36 911.9,513.69 912.63,513.01 913.37,512.3 914.1,511.57 914.83,510.82 915.56,510.05 916.3,509.27 917.03,508.47 917.76,507.66 918.5,506.83 919.23,506 919.96,505.15 920.69,504.29 921.43,503.43 922.16,502.55 922.89,501.67 923.63,500.78 924.36,499.89 925.09,498.99 925.82,498.08 926.56,497.17 927.29,496.26 928.02,495.34 928.76,494.43 929.49,493.51 930.22,492.58 930.95,491.66 931.69,490.73 932.42,489.81 933.15,488.88 933.89,487.96 934.62,487.03 935.35,486.11 936.08,485.18 936.82,484.26 937.55,483.34 938.28,482.42 939.02,481.5 939.75,480.58 940.48,479.67 941.21,478.76 941.95,477.85 942.68,476.94 943.41,476.04 944.15,475.14 944.88,474.24 945.61,473.34 946.34,472.45 947.08,471.56 947.81,470.67 948.54,469.79 951.11,466.73 953.67,463.72 956.24,460.75 958.8,457.84 961.37,454.97 963.93,452.16 966.5,449.4 969.06,446.7 971.63,444.05 974.19,441.45 976.76,438.9 979.32,436.41 981.89,433.97 984.45,431.57 987.02,429.23 989.58,426.94 992.15,424.7 994.71,422.5 997.28,420.35 999.84,418.24 1002.41,416.18 1004.97,414.16 1007.54,412.19 1010.1,410.25 1012.67,408.36 1015.23,406.5 1017.8,404.69 1020.36,402.91 1022.93,401.16 1025.49,399.45 1028.06,397.78 1030.62,396.14 1033.19,394.53 1035.75,392.95 1038.32,391.41 1040.88,389.89 1043.45,388.4 1046.01,386.94 1048.58,385.51 1051.14,384.1 1058.5,380.2 1065.85,376.49 1073.21,372.96 1080.56,369.58 1087.92,366.34 1095.27,363.22 1102.63,360.22 1109.99,357.32 1117.34,354.51 1124.7,351.78 1132.05,349.11 1139.41,346.51 1146.76,343.95 1154.12,341.43 1161.47,338.94 1168.83,336.48 1176.18,334.03 1183.54,331.6 1190.89,329.17 1198.25,326.73 1205.6,324.3 1212.96,321.85 1220.32,319.38 1227.67,316.89 1235.03,314.38 1242.38,311.83 1249.74,309.25 1257.09,306.64 1264.45,303.98 1271.8,301.28 1279.16,298.53 1286.51,295.72 1293.87,292.87 1301.22,289.96 1308.58,286.99 1315.93,283.96 1323.29,280.86 1330.65,277.7 1338,274.47 1345.36,271.18" stroke="#5E81B5" stroke-dasharray="7.6 6.2" stroke-dashoffset="-3"/>
<polyline points="863.79,32 863.79,35 863.9,42.56 864.26,65.84 864.63,87.61 865,108.02 865.36,127.19 865.73,145.27 866.1,162.33 866.46,178.49 866.83,193.8 867.2,208.34 867.56,222.17 867.93,235.34 868.3,247.9 868.66,259.88 869.03,271.33 869.39,282.28 869.76,292.75 870.13,302.78 870.49,312.38 870.86,321.59 871.23,330.41 871.59,338.88 871.96,347 872.33,354.79 872.69,362.27 873.06,369.45 873.43,376.34 873.79,382.96 874.16,389.31 874.52,395.42 874.89,401.28 875.26,406.9 875.62,412.31 875.99,417.5 876.36,422.48 876.72,427.27 877.09,431.86 877.46,436.28 877.82,440.51 878.19,444.57 878.55,448.48 878.92,452.22 879.29,455.81 879.65,459.25 880.02,462.56 880.39,465.73 880.75,468.76 881.12,471.67 881.49,474.46 881.85,477.14 882.22,479.7 882.59,482.15 882.95,484.49 883.32,486.74 883.68,488.89 884.05,490.94 884.42,492.9 884.78,494.78 885.15,496.57 885.52,498.28 885.88,499.92 886.25,501.47 886.62,502.96 886.98,504.37 887.35,505.72 887.72,507 888.08,508.22 888.45,509.38 888.81,510.48 889.18,511.52 889.55,512.51 889.91,513.45 890.65,515.17 891.38,516.71 892.11,518.07 892.85,519.26 893.58,520.31 894.31,521.21 895.04,521.98 895.78,522.63 896.51,523.16 897.24,523.59 897.98,523.92 898.71,524.16 899.44,524.31 900.17,524.37 900.91,524.37 901.64,524.29 902.37,524.15 903.11,523.95 903.84,523.7 904.57,523.39 905.3,523.03 906.04,522.62 906.77,522.18 907.5,521.69 908.24,521.17 908.97,520.61 909.7,520.02 910.43,519.41 911.17,518.76 911.9,518.09 912.63,517.39 913.37,516.68 914.1,515.94 914.83,515.19 915.56,514.41 916.3,513.62 917.03,512.82 917.76,512 918.5,511.17 919.23,510.33 919.96,509.48 920.69,508.62 921.43,507.75 922.16,506.87 922.89,505.99 923.63,505.1 924.36,504.2 925.09,503.3 925.82,502.39 926.56,501.48 927.29,500.56 928.02,499.65 928.76,498.73 929.49,497.8 930.22,496.88 930.95,495.95 931.69,495.03 932.42,494.1 933.15,493.17 933.89,492.25 934.62,491.32 935.35,490.39 936.08,489.47 936.82,488.54 937.55,487.62 938.28,486.7 939.02,485.78 939.75,484.86 940.48,483.95 941.21,483.03 941.95,482.12 942.68,481.21 943.41,480.31 944.15,479.4 944.88,478.5 945.61,477.61 946.34,476.71 947.08,475.82 947.81,474.94 948.54,474.05 951.11,470.99 953.67,467.97 956.24,464.99 958.8,462.07 961.37,459.2 963.93,456.38 966.5,453.62 969.06,450.9 971.63,448.24 974.19,445.63 976.76,443.08 979.32,440.57 981.89,438.12 984.45,435.72 987.02,433.36 989.58,431.06 992.15,428.8 994.71,426.6 997.28,424.43 999.84,422.32 1002.41,420.24 1004.97,418.21 1007.54,416.23 1010.1,414.28 1012.67,412.38 1015.23,410.51 1017.8,408.68 1020.36,406.89 1022.93,405.14 1025.49,403.42 1028.06,401.73 1030.62,400.08 1033.19,398.46 1035.75,396.88 1038.32,395.32 1040.88,393.79 1043.45,392.3 1046.01,390.83 1048.58,389.38 1051.14,387.97 1058.5,384.04 1065.85,380.31 1073.21,376.76 1080.56,373.36 1087.92,370.11 1095.27,366.98 1102.63,363.97 1109.99,361.06 1117.34,358.24 1124.7,355.49 1132.05,352.82 1139.41,350.21 1146.76,347.64 1154.12,345.12 1161.47,342.63 1168.83,340.16 1176.18,337.72 1183.54,335.28 1190.89,332.85 1198.25,330.42 1205.6,327.98 1212.96,325.53 1220.32,323.06 1227.67,320.57 1235.03,318.05 1242.38,315.5 1249.74,312.92 1257.09,310.3 1264.45,307.64 1271.8,304.93 1279.16,302.18 1286.51,299.37 1293.87,296.51 1301.22,293.59 1308.58,290.61 1315.93,287.57 1323.29,284.46 1330.65,281.29 1338,278.04 1345.36,274.73" stroke="#E19C24"/>
</g>
<rect x="820.50" y="10.20" width="534.64" height="541.20" fill="none" stroke="#888888" stroke-width="1.05"/>
<path d="M831.29 551.40v-8.00M831.29 10.20v8.00M845.94 551.40v-4.80M845.94 10.20v4.80M860.60 551.40v-4.80M860.60 10.20v4.80M875.26 551.40v-4.80M875.26 10.20v4.80M889.91 551.40v-4.80M889.91 10.20v4.80M904.57 551.40v-8.00M904.57 10.20v8.00M919.23 551.40v-4.80M919.23 10.20v4.80M933.89 551.40v-4.80M933.89 10.20v4.80M948.54 551.40v-4.80M948.54 10.20v4.80M963.20 551.40v-4.80M963.20 10.20v4.80M977.86 551.40v-8.00M977.86 10.20v8.00M992.51 551.40v-4.80M992.51 10.20v4.80M1007.17 551.40v-4.80M1007.17 10.20v4.80M1021.83 551.40v-4.80M1021.83 10.20v4.80M1036.49 551.40v-4.80M1036.49 10.20v4.80M1051.14 551.40v-8.00M1051.14 10.20v8.00M1065.80 551.40v-4.80M1065.80 10.20v4.80M1080.46 551.40v-4.80M1080.46 10.20v4.80M1095.11 551.40v-4.80M1095.11 10.20v4.80M1109.77 551.40v-4.80M1109.77 10.20v4.80M1124.43 551.40v-8.00M1124.43 10.20v8.00M1139.09 551.40v-4.80M1139.09 10.20v4.80M1153.74 551.40v-4.80M1153.74 10.20v4.80M1168.40 551.40v-4.80M1168.40 10.20v4.80M1183.06 551.40v-4.80M1183.06 10.20v4.80M1197.71 551.40v-8.00M1197.71 10.20v8.00M1212.37 551.40v-4.80M1212.37 10.20v4.80M1227.03 551.40v-4.80M1227.03 10.20v4.80M1241.69 551.40v-4.80M1241.69 10.20v4.80M1256.34 551.40v-4.80M1256.34 10.20v4.80M1271.00 551.40v-8.00M1271.00 10.20v8.00M1285.66 551.40v-4.80M1285.66 10.20v4.80M1300.31 551.40v-4.80M1300.31 10.20v4.80M1314.97 551.40v-4.80M1314.97 10.20v4.80M1329.63 551.40v-4.80M1329.63 10.20v4.80M1344.29 551.40v-8.00M1344.29 10.20v8.00M820.50 547.84h4.60M1355.14 547.84h-4.60M820.50 526.66h4.60M1355.14 526.66h-4.60M820.50 505.48h4.60M1355.14 505.48h-4.60M820.50 463.12h4.60M1355.14 463.12h-4.60M820.50 441.94h4.60M1355.14 441.94h-4.60M820.50 420.76h4.60M1355.14 420.76h-4.60M820.50 399.58h4.60M1355.14 399.58h-4.60M820.50 357.22h4.60M1355.14 357.22h-4.60M820.50 336.04h4.60M1355.14 336.04h-4.60M820.50 314.86h4.60M1355.14 314.86h-4.60M820.50 293.68h4.60M1355.14 293.68h-4.60M820.50 272.50h7.50M1355.14 272.50h-7.50M820.50 251.32h4.60M1355.14 251.32h-4.60M820.50 230.14h4.60M1355.14 230.14h-4.60M820.50 208.96h4.60M1355.14 208.96h-4.60M820.50 187.78h4.60M1355.14 187.78h-4.60M820.50 145.42h4.60M1355.14 145.42h-4.60M820.50 124.24h4.60M1355.14 124.24h-4.60M820.50 103.06h4.60M1355.14 103.06h-4.60M820.50 81.88h4.60M1355.14 81.88h-4.60M820.50 60.70h7.50M1355.14 60.70h-7.50M820.50 39.52h4.60M1355.14 39.52h-4.60M820.50 18.34h4.60M1355.14 18.34h-4.60" fill="none" stroke="#707070" stroke-width="0.90"/>
</g>
<text transform="translate(1163.80,577.20) scale(1.3500,1.0000)" font-family="&quot;Liberation Sans&quot;, sans-serif" font-size="22.80" font-weight="bold" text-anchor="middle" stroke="#000" stroke-width="0.30">0</text>
<text transform="translate(1266.40,577.20) scale(1.3500,1.0000)" font-family="&quot;Liberation Sans&quot;, sans-serif" font-size="22.80" font-weight="bold" text-anchor="middle" stroke="#000" stroke-width="0.30">1</text>
<text transform="translate(1369.00,577.20) scale(1.3500,1.0000)" font-family="&quot;Liberation Sans&quot;, sans-serif" font-size="22.80" font-weight="bold" text-anchor="middle" stroke="#000" stroke-width="0.30">2</text>
<text transform="translate(1471.60,577.20) scale(1.3500,1.0000)" font-family="&quot;Liberation Sans&quot;, sans-serif" font-size="22.80" font-weight="bold" text-anchor="middle" stroke="#000" stroke-width="0.30">3</text>
<text transform="translate(1574.20,577.20) scale(1.3500,1.0000)" font-family="&quot;Liberation Sans&quot;, sans-serif" font-size="22.80" font-weight="bold" text-anchor="middle" stroke="#000" stroke-width="0.30">4</text>
<text transform="translate(1676.80,577.20) scale(1.3500,1.0000)" font-family="&quot;Liberation Sans&quot;, sans-serif" font-size="22.80" font-weight="bold" text-anchor="middle" stroke="#000" stroke-width="0.30">5</text>
<text transform="translate(1779.40,577.20) scale(1.3500,1.0000)" font-family="&quot;Liberation Sans&quot;, sans-serif" font-size="22.80" font-weight="bold" text-anchor="middle" stroke="#000" stroke-width="0.30">6</text>
<text transform="translate(1882.00,577.20) scale(1.3500,1.0000)" font-family="&quot;Liberation Sans&quot;, sans-serif" font-size="22.80" font-weight="bold" text-anchor="middle" stroke="#000" stroke-width="0.30">7</text>
<text transform="translate(1141.30,68.20) scale(1.3500,1.0000)" font-family="&quot;Liberation Sans&quot;, sans-serif" font-size="22.80" font-weight="bold" text-anchor="end" stroke="#000" stroke-width="0.30">−1.5</text>
<text transform="translate(1141.30,174.10) scale(1.3500,1.0000)" font-family="&quot;Liberation Sans&quot;, sans-serif" font-size="22.80" font-weight="bold" text-anchor="end" stroke="#000" stroke-width="0.30">−2.0</text>
<text transform="translate(1141.30,280.00) scale(1.3500,1.0000)" font-family="&quot;Liberation Sans&quot;, sans-serif" font-size="22.80" font-weight="bold" text-anchor="end" stroke="#000" stroke-width="0.30">−2.5</text>
<text transform="translate(1141.30,385.90) scale(1.3500,1.0000)" font-family="&quot;Liberation Sans&quot;, sans-serif" font-size="22.80" font-weight="bold" text-anchor="end" stroke="#000" stroke-width="0.30">−3.0</text>
<text transform="translate(1141.30,491.80) scale(1.3500,1.0000)" font-family="&quot;Liberation Sans&quot;, sans-serif" font-size="22.80" font-weight="bold" text-anchor="end" stroke="#000" stroke-width="0.30">−3.5</text>
<text transform="translate(1410.60,615.20) scale(1.4000,1.0000)" font-family="&quot;Liberation Sans&quot;, sans-serif" font-size="22.30" font-weight="bold" text-anchor="start" stroke="#000" stroke-width="0.30">Shell radius <tspan x="133.20" y="0.10" font-size="21.80" textLength="6.20" lengthAdjust="spacingAndGlyphs">(</tspan><tspan x="141.60" y="0.20" font-size="16.10" font-style="italic" textLength="10.75" lengthAdjust="spacingAndGlyphs">ϑ</tspan><tspan x="154.00" y="0.10" font-size="21.80" font-style="normal" textLength="6.20" lengthAdjust="spacingAndGlyphs">)</tspan></text>
<text transform="translate(1056.90,410.60) rotate(-90) scale(0.7130,1.0000)" font-family="&quot;Liberation Sans&quot;, sans-serif" font-size="32.00" font-weight="bold" text-anchor="start" stroke="#000" stroke-width="0.30">Effective potential <tspan x="282.73" y="0.25" font-size="29.70" font-weight="normal" stroke="#000" stroke-width="0.45">(</tspan><tspan x="289.68" y="1.30" font-size="30.20" font-weight="normal" font-family="&quot;DejaVu Math TeX Gyre&quot;, &quot;DejaVu Sans&quot;, sans-serif" textLength="37.64" lengthAdjust="spacingAndGlyphs" stroke="#000" stroke-width="1.10">ℋ</tspan><tspan x="325.23" y="0.25" font-size="29.70" font-weight="normal" font-style="normal" stroke="#000" stroke-width="0.45">(</tspan><tspan x="338.02" y="0.50" font-size="21.60" font-weight="bold" font-style="italic" textLength="13.84" lengthAdjust="spacingAndGlyphs">ϑ</tspan><tspan x="353.82" y="0.25" font-size="29.70" font-weight="normal" font-style="normal" stroke="#000" stroke-width="0.45">)</tspan><tspan x="364.76" y="0.25" font-size="29.70" font-weight="normal" font-style="normal" stroke="#000" stroke-width="0.45">)</tspan></text>
<rect x="1947.00" y="541.20" width="20.50" height="60.20" fill="#5E81B5"/>
<rect x="1947.00" y="484.10" width="20.50" height="57.40" fill="#E19C24"/>
<rect x="1947.00" y="428.10" width="20.50" height="56.30" fill="#8FB032"/>
<rect x="1947.00" y="370.90" width="20.50" height="57.50" fill="#EB6235"/>
<rect x="1947.00" y="309.60" width="20.50" height="61.60" fill="#8778B3"/>
<rect x="1947.00" y="253.70" width="20.50" height="56.20" fill="#C56E1A"/>
<rect x="1947.00" y="197.00" width="20.50" height="57.00" fill="#5D9EC7"/>
<rect x="1947.00" y="139.60" width="20.50" height="57.70" fill="#FFBF00"/>
<rect x="1947.00" y="83.40" width="20.50" height="56.50" fill="#A5609D"/>
<rect x="1947.00" y="81.00" width="20.50" height="2.60" fill="#929600"/>
<path d="M1967.50 81.70h5.50M1967.50 102.48h3.00M1967.50 123.26h3.00M1967.50 144.04h3.00M1967.50 164.82h3.00M1967.50 185.60h5.50M1967.50 206.16h3.00M1967.50 226.72h3.00M1967.50 247.28h3.00M1967.50 267.84h3.00M1967.50 288.40h5.50M1967.50 309.42h3.00M1967.50 330.44h3.00M1967.50 351.46h3.00M1967.50 372.48h3.00M1967.50 393.50h5.50M1967.50 414.34h3.00M1967.50 435.18h3.00M1967.50 456.02h3.00M1967.50 476.86h3.00M1967.50 497.70h5.50M1967.50 518.48h3.00M1967.50 539.26h3.00M1967.50 560.04h3.00M1967.50 580.82h3.00M1967.50 601.60h5.50" fill="none" stroke="#bdbdbd" stroke-width="1.00"/>
<text transform="translate(1978.80,92.80) scale(0.5500,1.0000)" font-family="&quot;Liberation Sans&quot;, sans-serif" font-size="35.60" font-weight="bold" text-anchor="start">1.0</text>
<text transform="translate(1978.80,196.70) scale(0.5500,1.0000)" font-family="&quot;Liberation Sans&quot;, sans-serif" font-size="35.60" font-weight="bold" text-anchor="start">0.9</text>
<text transform="translate(1978.80,299.50) scale(0.5500,1.0000)" font-family="&quot;Liberation Sans&quot;, sans-serif" font-size="35.60" font-weight="bold" text-anchor="start">0.8</text>
<text transform="translate(1978.80,404.60) scale(0.5500,1.0000)" font-family="&quot;Liberation Sans&quot;, sans-serif" font-size="35.60" font-weight="bold" text-anchor="start">0.7</text>
<text transform="translate(1978.80,508.80) scale(0.5500,1.0000)" font-family="&quot;Liberation Sans&quot;, sans-serif" font-size="35.60" font-weight="bold" text-anchor="start">0.6</text>
<text transform="translate(1978.80,612.70) scale(0.5500,1.0000)" font-family="&quot;Liberation Sans&quot;, sans-serif" font-size="35.60" font-weight="bold" text-anchor="start">0.5</text>
<text transform="translate(1956.20,42.60) scale(0.7000,1.0000)" font-family="&quot;DejaVu Math TeX Gyre&quot;, &quot;DejaVu Sans&quot;, sans-serif" font-size="28.90" text-anchor="start" textLength="36.73" lengthAdjust="spacingAndGlyphs" stroke="#000" stroke-width="0.9">ℳ</text>
<text transform="translate(1980.20,50.00) scale(0.7000,1.0000)" font-family="&quot;Liberation Sans&quot;, sans-serif" font-weight="bold" font-size="19.00" text-anchor="start">+</text>
</svg>
</body></html>
